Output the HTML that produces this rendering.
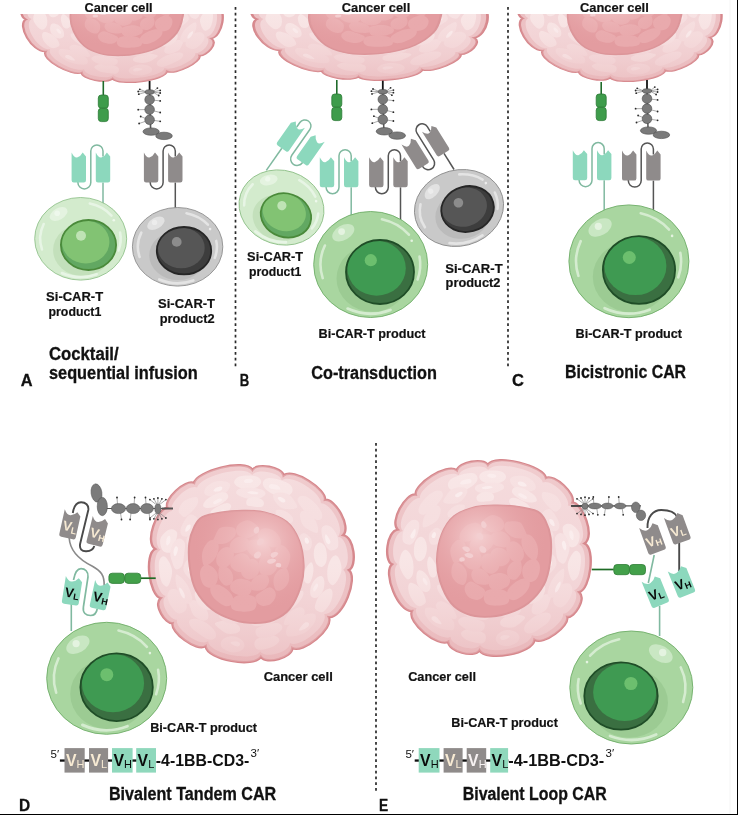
<!DOCTYPE html><html><head><meta charset="utf-8"><style>html,body{margin:0;padding:0;background:#fff;overflow:hidden;}svg{display:block;will-change:transform}</style></head><body><svg width="738" height="815" viewBox="0 0 738 815"><defs><radialGradient id="nucg" cx="0.64" cy="0.28" r="0.6"><stop offset="0" stop-color="#f6d6d7" stop-opacity="0.85"/><stop offset="0.5" stop-color="#f0c0c2" stop-opacity="0.35"/><stop offset="1" stop-color="#e7a4a7" stop-opacity="0"/></radialGradient><linearGradient id="cytog" x1="0" y1="0" x2="0" y2="1"><stop offset="0" stop-color="#fbeeee" stop-opacity="0.35"/><stop offset="0.5" stop-color="#f3d3d5" stop-opacity="0"/><stop offset="1" stop-color="#e6aeb1" stop-opacity="0.6"/></linearGradient><g id="cancer"><path d="M78.8,56.6C84.1,68.4 52.7,94.6 42.6,88.5C42.6,98.5 16.6,106.0 11.3,97.5C5.0,109.3 -42.3,100.9 -43.6,86.5C-52.7,92.8 -79.0,71.8 -76.4,62.8C-83.7,64.0 -95.7,44.1 -88.3,37.0C-99.6,34.3 -105.0,-8.4 -93.7,-13.6C-104.9,-21.2 -91.4,-55.7 -81.6,-56.1C-85.5,-64.6 -63.9,-86.0 -55.1,-81.6C-53.4,-93.5 -4.8,-107.6 2.9,-95.1C7.2,-103.0 32.7,-97.9 33.9,-89.4C44.0,-97.7 77.0,-74.5 75.0,-64.3C85.2,-65.9 101.4,-36.2 93.1,-28.0C104.1,-26.3 107.3,4.0 98.8,8.1C108.3,16.0 92.9,58.0 78.8,56.6Z" fill="#ecc0c3" stroke="#d6878c" stroke-width="2.4"/><path d="M74.3,53.4C79.3,64.5 49.8,89.3 40.2,83.4C40.2,92.9 15.7,100.0 10.7,92.0C4.7,103.1 -39.9,95.2 -41.1,81.6C-49.7,87.5 -74.5,67.7 -72.1,59.3C-78.9,60.4 -90.3,41.6 -83.3,34.9C-93.9,32.3 -99.0,-7.9 -88.3,-12.8C-98.9,-20.0 -86.2,-52.5 -77.0,-52.9C-80.7,-60.9 -60.3,-81.1 -52.0,-76.9C-50.4,-88.2 -4.6,-101.5 2.7,-89.8C6.8,-97.1 30.9,-92.3 32.0,-84.3C41.5,-92.2 72.7,-70.3 70.8,-60.7C80.3,-62.2 95.7,-34.1 87.8,-26.4C98.2,-24.8 101.2,3.8 93.2,7.7C102.2,15.1 87.6,54.7 74.3,53.4Z" fill="#f3d7d9"/><path d="M82.7,23.8C81.1,23.9 78.9,21.2 78.0,18.4C77.2,15.6 77.1,10.6 77.5,7.1C77.9,3.6 79.2,-0.2 80.5,-2.6C81.9,-4.9 84.0,-7.2 85.6,-7.1C87.1,-7.0 88.9,-4.7 89.8,-2.1C90.8,0.5 91.8,5.1 91.5,8.4C91.2,11.8 89.3,15.6 87.9,18.2C86.4,20.7 84.3,23.8 82.7,23.8Z" fill="#f8e6e6"/><path d="M68.2,50.6C66.8,49.9 64.9,48.9 64.9,46.5C64.9,44.2 66.5,39.2 68.2,36.3C69.8,33.5 72.6,30.9 74.7,29.4C76.8,27.9 79.3,26.7 80.6,27.3C82.0,27.9 82.7,30.5 82.6,33.1C82.5,35.6 81.5,39.6 80.0,42.6C78.5,45.6 75.5,49.7 73.5,51.0C71.5,52.3 69.7,51.4 68.2,50.6Z" fill="#f8e6e6"/><path d="M37.4,75.7C35.9,74.3 35.9,70.1 37.4,67.3C39.0,64.4 43.6,60.9 46.7,58.7C49.9,56.5 53.1,54.8 56.1,54.0C59.2,53.2 63.6,52.4 65.1,53.7C66.5,55.1 66.2,59.1 64.8,62.0C63.4,65.0 60.0,69.2 56.9,71.5C53.9,73.8 49.7,75.1 46.5,75.8C43.2,76.5 39.0,77.2 37.4,75.7Z" fill="#f6dfe0"/><path d="M49.2,70.2C48.8,69.7 50.5,67.4 51.5,66.1C52.5,64.7 54.1,62.8 55.3,62.2C56.6,61.7 58.3,61.9 58.8,62.5C59.4,63.2 59.5,64.8 58.6,66.0C57.8,67.1 55.2,68.7 53.6,69.4C52.0,70.1 49.5,70.8 49.2,70.2Z" fill="#fbefef"/><path d="M4.9,85.2C4.7,83.4 5.0,81.2 6.7,79.6C8.5,78.1 12.4,76.7 15.4,76.0C18.4,75.4 22.5,75.2 24.9,75.9C27.3,76.6 29.7,78.5 29.8,80.1C29.9,81.8 27.7,84.1 25.7,85.6C23.7,87.0 20.9,88.2 18.0,88.9C15.1,89.7 10.4,90.7 8.2,90.1C6.0,89.4 5.2,86.9 4.9,85.2Z" fill="#f8e6e6"/><path d="M-28.2,81.9C-27.5,80.1 -25.6,78.5 -23.4,77.6C-21.2,76.7 -17.6,76.0 -14.8,76.5C-12.1,77.0 -8.8,79.0 -7.2,80.6C-5.5,82.3 -4.8,84.6 -5.0,86.4C-5.3,88.2 -6.5,90.2 -8.7,91.3C-10.8,92.4 -15.0,93.4 -18.0,92.9C-21.1,92.4 -25.4,90.1 -27.1,88.3C-28.8,86.5 -28.8,83.7 -28.2,81.9Z" fill="#f7e2e3"/><path d="M-18.9,82.9C-18.8,82.3 -16.6,81.9 -15.3,81.8C-14.0,81.7 -12.1,81.7 -11.1,82.2C-10.1,82.7 -9.3,84.0 -9.4,84.8C-9.5,85.5 -10.5,86.7 -11.6,86.8C-12.8,87.0 -15.0,86.1 -16.2,85.4C-17.5,84.8 -19.1,83.5 -18.9,82.9Z" fill="#fbefef"/><path d="M-59.7,60.2C-58.9,58.8 -56.2,57.9 -53.4,58.4C-50.6,58.8 -46.1,60.7 -42.9,62.8C-39.7,65.0 -35.8,68.6 -34.4,71.1C-32.9,73.5 -33.0,76.3 -34.0,77.8C-35.0,79.2 -37.6,80.4 -40.4,79.8C-43.1,79.1 -47.4,76.0 -50.4,73.8C-53.4,71.7 -56.8,69.2 -58.3,66.9C-59.9,64.6 -60.5,61.6 -59.7,60.2Z" fill="#f7e2e3"/><path d="M-78.7,28.3C-76.9,27.3 -73.7,27.5 -71.3,28.9C-69.0,30.4 -66.1,34.2 -64.6,37.0C-63.1,39.9 -62.2,43.8 -62.3,46.2C-62.4,48.6 -63.9,50.3 -65.4,51.4C-66.9,52.4 -69.3,53.6 -71.4,52.5C-73.6,51.4 -76.5,47.8 -78.2,44.8C-79.9,41.9 -81.5,37.8 -81.6,35.0C-81.7,32.3 -80.4,29.3 -78.7,28.3Z" fill="#f6dfe0"/><path d="M-85.5,-6.1C-84.0,-6.1 -82.1,-4.1 -80.7,-1.6C-79.2,0.8 -77.3,5.0 -77.0,8.4C-76.6,11.8 -77.7,16.0 -78.5,18.8C-79.4,21.6 -80.6,24.9 -82.1,25.2C-83.5,25.5 -85.9,23.1 -87.2,20.6C-88.4,18.0 -89.3,13.5 -89.7,9.8C-90.2,6.1 -90.4,1.0 -89.7,-1.6C-89.0,-4.3 -87.0,-6.1 -85.5,-6.1Z" fill="#f8e6e6"/><path d="M-77.2,-33.9C-75.3,-33.7 -72.5,-32.8 -71.9,-30.4C-71.4,-28.1 -72.8,-23.3 -73.8,-20.0C-74.7,-16.8 -76.0,-12.4 -77.6,-10.8C-79.3,-9.1 -81.9,-9.6 -83.6,-10.2C-85.3,-10.8 -86.8,-12.3 -87.6,-14.6C-88.5,-16.9 -89.4,-21.2 -88.6,-24.1C-87.9,-26.9 -84.9,-30.0 -83.0,-31.7C-81.0,-33.3 -79.0,-34.1 -77.2,-33.9Z" fill="#f8e6e6"/><path d="M-79.5,-27.2C-78.9,-27.0 -78.5,-25.3 -78.5,-24.1C-78.5,-22.8 -78.8,-20.7 -79.4,-19.6C-80.0,-18.4 -81.6,-16.9 -82.2,-17.2C-82.8,-17.4 -82.8,-19.8 -82.8,-21.1C-82.8,-22.4 -82.6,-24.2 -82.0,-25.3C-81.5,-26.3 -80.1,-27.4 -79.5,-27.2Z" fill="#fbefef"/><path d="M-52.0,-66.6C-50.9,-65.7 -50.7,-62.9 -51.4,-60.7C-52.1,-58.4 -54.3,-55.6 -56.4,-53.2C-58.4,-50.9 -61.8,-47.4 -63.9,-46.7C-65.9,-46.0 -67.4,-47.9 -68.5,-49.1C-69.6,-50.3 -70.8,-51.7 -70.4,-53.9C-70.0,-56.1 -68.0,-60.3 -66.0,-62.3C-64.0,-64.4 -60.5,-65.5 -58.2,-66.2C-55.8,-66.9 -53.1,-67.6 -52.0,-66.6Z" fill="#f6dfe0"/><path d="M-19.4,-80.8C-18.7,-79.2 -19.7,-76.3 -21.2,-74.2C-22.8,-72.1 -25.9,-69.5 -28.6,-68.4C-31.4,-67.3 -35.0,-67.3 -37.6,-67.6C-40.3,-68.0 -43.7,-68.6 -44.6,-70.2C-45.6,-71.8 -44.8,-75.1 -43.1,-77.2C-41.5,-79.4 -37.7,-82.0 -34.8,-83.0C-31.9,-84.1 -28.4,-83.9 -25.8,-83.5C-23.2,-83.2 -20.2,-82.3 -19.4,-80.8Z" fill="#f6dfe0"/><path d="M-27.1,-76.9C-26.8,-76.3 -27.2,-75.0 -28.1,-74.3C-28.9,-73.6 -31.0,-73.0 -32.2,-72.8C-33.5,-72.7 -35.5,-72.7 -35.8,-73.3C-36.0,-73.9 -34.9,-75.5 -33.9,-76.3C-32.9,-77.0 -30.9,-77.7 -29.8,-77.9C-28.7,-78.0 -27.4,-77.5 -27.1,-76.9Z" fill="#fbefef"/><path d="M11.6,-83.0C11.7,-81.3 10.3,-79.1 8.1,-77.8C5.9,-76.4 1.6,-74.9 -1.6,-74.8C-4.8,-74.8 -8.8,-76.2 -11.1,-77.5C-13.4,-78.8 -15.2,-80.7 -15.3,-82.4C-15.3,-84.1 -13.8,-86.5 -11.6,-87.7C-9.4,-88.8 -5.1,-89.3 -1.9,-89.3C1.4,-89.4 5.5,-89.0 7.7,-88.0C10.0,-86.9 11.6,-84.7 11.6,-83.0Z" fill="#f8e6e6"/><path d="M3.6,-84.0C3.6,-83.3 2.5,-82.4 1.3,-82.0C0.1,-81.6 -2.6,-81.4 -3.8,-81.7C-4.9,-82.0 -5.6,-83.1 -5.5,-83.8C-5.5,-84.4 -4.5,-85.2 -3.4,-85.5C-2.2,-85.9 0.2,-86.2 1.4,-85.9C2.5,-85.7 3.6,-84.6 3.6,-84.0Z" fill="#fbefef"/><path d="M42.5,-72.3C41.8,-70.4 39.5,-68.5 36.5,-68.1C33.5,-67.6 27.8,-68.3 24.3,-69.7C20.8,-71.1 17.2,-74.1 15.3,-76.2C13.5,-78.3 12.9,-80.7 13.4,-82.4C13.9,-84.2 15.6,-86.2 18.3,-86.6C21.0,-87.1 25.9,-86.1 29.6,-84.9C33.4,-83.7 38.8,-81.5 40.9,-79.4C43.0,-77.3 43.2,-74.2 42.5,-72.3Z" fill="#f8e6e6"/><path d="M30.7,-75.3C30.3,-74.7 27.8,-74.8 26.1,-75.0C24.3,-75.2 21.4,-75.6 20.3,-76.3C19.2,-77.0 19.1,-78.6 19.5,-79.2C19.8,-79.9 20.9,-80.5 22.3,-80.5C23.8,-80.4 26.9,-79.6 28.3,-78.8C29.7,-77.9 31.0,-76.0 30.7,-75.3Z" fill="#fbefef"/><path d="M71.6,-44.9C70.6,-43.7 68.2,-42.9 65.6,-44.0C62.9,-45.2 58.5,-48.7 55.6,-51.7C52.7,-54.8 49.0,-59.8 48.1,-62.5C47.2,-65.2 48.7,-67.1 50.1,-68.0C51.5,-68.8 53.9,-68.9 56.4,-67.7C58.9,-66.5 62.7,-63.5 65.2,-60.7C67.8,-58.0 70.5,-54.1 71.6,-51.4C72.6,-48.8 72.6,-46.1 71.6,-44.9Z" fill="#f6dfe0"/><path d="M84.0,-12.6C82.4,-12.1 80.2,-11.6 78.4,-13.4C76.6,-15.1 74.4,-19.5 73.3,-23.0C72.1,-26.5 71.1,-31.7 71.6,-34.3C72.0,-36.8 74.4,-37.9 76.0,-38.1C77.7,-38.4 79.8,-37.5 81.6,-35.7C83.5,-33.9 86.0,-30.5 87.1,-27.3C88.2,-24.1 88.7,-19.0 88.1,-16.5C87.6,-14.1 85.7,-13.2 84.0,-12.6Z" fill="#f7e2e3"/><path d="M79.0,-18.5C78.4,-18.4 77.2,-19.1 76.5,-20.2C75.9,-21.3 75.3,-23.6 75.2,-25.1C75.0,-26.5 75.2,-28.8 75.8,-28.9C76.3,-29.0 77.5,-27.0 78.3,-25.7C79.1,-24.4 80.4,-22.2 80.5,-21.0C80.6,-19.9 79.7,-18.7 79.0,-18.5Z" fill="#fbefef"/><path d="M63.4,36.6C62.1,36.1 60.7,34.8 60.4,32.7C60.1,30.6 60.4,26.7 61.4,24.0C62.4,21.2 64.7,17.9 66.5,16.3C68.3,14.7 70.7,13.8 72.0,14.4C73.4,15.0 74.1,17.6 74.4,20.0C74.6,22.3 74.4,26.0 73.4,28.6C72.4,31.3 69.9,34.6 68.3,35.9C66.6,37.2 64.7,37.2 63.4,36.6Z" fill="#f8e6e6"/><path d="M64.1,30.1C63.6,30.0 63.1,28.4 63.3,27.3C63.5,26.2 64.6,24.3 65.3,23.4C66.0,22.6 66.8,21.9 67.3,22.0C67.8,22.2 68.2,23.3 68.1,24.3C68.0,25.2 67.1,26.9 66.5,27.9C65.8,28.8 64.7,30.2 64.1,30.1Z" fill="#fbefef"/><path d="M34.4,64.1C33.6,63.1 34.6,60.4 35.6,58.2C36.6,56.1 38.1,53.0 40.4,51.1C42.7,49.1 46.9,47.0 49.2,46.5C51.5,46.1 53.3,47.2 54.1,48.5C55.0,49.7 55.3,51.8 54.3,53.8C53.2,55.8 50.1,58.7 47.8,60.4C45.4,62.2 42.5,63.7 40.3,64.3C38.1,64.9 35.2,65.1 34.4,64.1Z" fill="#f6dfe0"/><path d="M6.2,73.7C5.8,72.1 5.7,69.7 7.5,68.1C9.3,66.6 13.7,65.1 17.1,64.2C20.4,63.3 24.9,62.3 27.5,62.7C30.1,63.1 32.4,65.0 32.7,66.7C33.0,68.3 31.3,70.7 29.3,72.5C27.3,74.3 23.7,76.4 20.5,77.3C17.4,78.2 12.6,78.4 10.2,77.8C7.8,77.2 6.7,75.3 6.2,73.7Z" fill="#f7e2e3"/><path d="M-34.3,63.1C-34.0,61.8 -30.5,60.9 -28.0,60.5C-25.4,60.2 -21.9,60.2 -19.0,61.0C-16.0,61.9 -12.1,64.0 -10.6,65.6C-9.0,67.2 -9.1,69.5 -9.7,70.8C-10.4,72.1 -12.3,73.0 -14.5,73.4C-16.6,73.9 -20.2,74.2 -22.8,73.4C-25.4,72.6 -27.9,70.4 -29.8,68.7C-31.7,67.0 -34.6,64.5 -34.3,63.1Z" fill="#f8e6e6"/><path d="M-59.9,40.4C-59.0,39.1 -55.7,38.9 -53.3,39.7C-50.8,40.5 -47.2,43.0 -45.1,45.2C-43.1,47.4 -41.7,50.6 -41.2,52.9C-40.6,55.1 -40.7,57.4 -41.6,58.6C-42.6,59.9 -44.8,60.8 -47.1,60.2C-49.3,59.7 -53.3,57.3 -55.2,55.2C-57.1,53.1 -57.8,50.1 -58.6,47.6C-59.4,45.1 -60.8,41.7 -59.9,40.4Z" fill="#f7e2e3"/><path d="M-72.7,12.7C-71.6,12.1 -68.7,14.9 -66.6,17.1C-64.6,19.4 -62.0,22.7 -60.3,26.2C-58.7,29.7 -56.9,35.6 -56.8,38.3C-56.7,41.0 -58.4,42.0 -59.8,42.5C-61.1,43.0 -63.1,43.2 -64.9,41.2C-66.7,39.3 -69.3,34.2 -70.7,30.7C-72.1,27.3 -72.9,23.5 -73.2,20.5C-73.6,17.5 -73.8,13.2 -72.7,12.7Z" fill="#f6dfe0"/><path d="M-69.6,26.0C-69.2,25.8 -67.9,26.9 -67.1,28.1C-66.2,29.4 -64.9,32.1 -64.5,33.6C-64.1,35.1 -64.1,37.2 -64.7,37.4C-65.2,37.6 -66.7,36.1 -67.5,34.8C-68.4,33.5 -69.3,30.9 -69.7,29.4C-70.0,27.9 -70.0,26.3 -69.6,26.0Z" fill="#fbefef"/><path d="M-69.3,-24.5C-67.4,-24.3 -65.0,-22.4 -64.3,-19.7C-63.6,-17.0 -64.5,-11.9 -65.0,-8.0C-65.4,-4.1 -65.7,1.0 -67.1,3.6C-68.5,6.1 -71.6,7.9 -73.2,7.3C-74.8,6.7 -75.9,2.9 -76.8,0.1C-77.7,-2.7 -79.0,-6.2 -78.8,-9.7C-78.5,-13.2 -76.7,-18.3 -75.1,-20.8C-73.6,-23.3 -71.1,-24.7 -69.3,-24.5Z" fill="#f7e2e3"/><path d="M-73.0,-16.4C-72.3,-16.5 -71.2,-15.3 -71.1,-14.0C-71.0,-12.7 -71.7,-10.0 -72.3,-8.7C-72.8,-7.4 -73.7,-6.2 -74.2,-6.3C-74.8,-6.4 -75.4,-7.9 -75.5,-9.1C-75.7,-10.3 -75.4,-12.5 -74.9,-13.7C-74.5,-14.9 -73.6,-16.4 -73.0,-16.4Z" fill="#fbefef"/><path d="M-53.8,-47.5C-52.3,-46.4 -50.9,-44.8 -50.8,-42.4C-50.7,-40.0 -51.6,-35.8 -53.2,-33.3C-54.8,-30.7 -58.2,-28.0 -60.4,-26.9C-62.6,-25.9 -65.2,-26.0 -66.6,-27.0C-68.0,-28.0 -68.8,-30.6 -68.6,-33.0C-68.5,-35.3 -67.1,-38.4 -65.6,-41.0C-64.1,-43.7 -61.6,-47.9 -59.6,-48.9C-57.7,-50.0 -55.3,-48.6 -53.8,-47.5Z" fill="#f6dfe0"/><path d="M-58.8,-38.7C-58.3,-38.3 -58.4,-36.7 -58.8,-35.6C-59.1,-34.6 -60.1,-33.3 -60.9,-32.6C-61.6,-31.9 -62.9,-31.1 -63.4,-31.4C-63.8,-31.6 -63.9,-33.0 -63.7,-34.1C-63.4,-35.2 -62.5,-37.3 -61.7,-38.1C-60.9,-38.9 -59.3,-39.2 -58.8,-38.7Z" fill="#fbefef"/><path d="M-22.1,-70.4C-21.2,-69.3 -20.5,-67.4 -21.9,-65.4C-23.4,-63.4 -27.7,-60.1 -30.8,-58.5C-33.9,-57.0 -38.2,-56.1 -40.7,-56.0C-43.2,-55.9 -45.4,-56.6 -45.9,-57.8C-46.5,-59.0 -45.6,-61.3 -44.0,-63.2C-42.4,-65.0 -39.0,-67.4 -36.2,-68.9C-33.4,-70.4 -29.5,-71.8 -27.1,-72.1C-24.8,-72.3 -22.9,-71.5 -22.1,-70.4Z" fill="#f8e6e6"/><path d="M-27.5,-65.2C-27.2,-64.7 -27.7,-63.4 -28.8,-62.5C-29.9,-61.5 -32.9,-60.0 -34.1,-59.7C-35.3,-59.4 -35.9,-60.2 -36.1,-60.7C-36.3,-61.2 -36.1,-62.0 -35.2,-62.8C-34.3,-63.6 -31.9,-65.1 -30.6,-65.5C-29.3,-65.9 -27.8,-65.7 -27.5,-65.2Z" fill="#fbefef"/><path d="M15.9,-70.7C15.9,-69.3 14.5,-67.7 12.1,-66.8C9.7,-65.9 4.9,-65.2 1.6,-65.3C-1.8,-65.4 -5.5,-66.6 -8.0,-67.6C-10.5,-68.6 -13.0,-70.0 -13.3,-71.4C-13.7,-72.7 -12.5,-74.8 -10.0,-75.7C-7.4,-76.6 -1.9,-76.9 1.8,-76.7C5.6,-76.6 10.1,-75.8 12.5,-74.7C14.8,-73.7 16.0,-72.0 15.9,-70.7Z" fill="#f7e2e3"/><path d="M8.9,-71.5C9.0,-71.0 7.9,-70.2 6.7,-70.0C5.4,-69.8 3.0,-70.1 1.5,-70.4C0.0,-70.7 -2.0,-71.3 -2.1,-71.8C-2.1,-72.2 -0.2,-73.0 1.2,-73.2C2.5,-73.4 4.8,-73.0 6.0,-72.7C7.3,-72.5 8.8,-72.0 8.9,-71.5Z" fill="#fbefef"/><path d="M47.4,-56.6C46.7,-55.1 42.9,-54.7 40.2,-54.7C37.5,-54.7 33.6,-55.0 31.1,-56.5C28.5,-57.9 26.3,-61.1 25.0,-63.3C23.8,-65.5 22.9,-68.2 23.7,-69.6C24.5,-71.1 27.3,-71.9 29.7,-71.9C32.2,-72.0 36.1,-71.4 38.5,-70.0C40.9,-68.6 42.9,-65.9 44.3,-63.6C45.8,-61.4 48.1,-58.1 47.4,-56.6Z" fill="#f6dfe0"/><path d="M35.5,-62.3C35.2,-61.7 34.1,-61.3 33.1,-61.5C32.2,-61.7 30.5,-62.8 29.6,-63.6C28.8,-64.4 27.8,-65.8 28.1,-66.4C28.3,-67.0 29.8,-67.4 31.0,-67.1C32.2,-66.8 34.3,-65.5 35.1,-64.7C35.8,-63.9 35.8,-62.8 35.5,-62.3Z" fill="#fbefef"/><path d="M67.5,-30.3C66.3,-29.5 63.1,-31.1 60.8,-32.4C58.4,-33.6 55.2,-35.4 53.4,-37.8C51.6,-40.2 50.4,-44.4 50.2,-46.8C49.9,-49.3 50.6,-51.4 51.9,-52.4C53.1,-53.3 55.6,-53.6 57.6,-52.4C59.7,-51.3 62.5,-47.9 64.2,-45.4C65.9,-42.9 67.2,-39.9 67.7,-37.3C68.3,-34.8 68.6,-31.2 67.5,-30.3Z" fill="#f6dfe0"/><path d="M72.0,4.9C70.5,5.2 68.2,4.1 66.8,2.2C65.5,0.3 64.3,-3.5 64.0,-6.5C63.7,-9.4 64.1,-13.3 65.0,-15.6C65.9,-17.9 67.8,-20.2 69.5,-20.4C71.1,-20.6 73.7,-18.8 74.9,-16.7C76.1,-14.6 76.7,-10.6 76.9,-7.8C77.1,-4.9 76.8,-1.7 76.0,0.4C75.2,2.5 73.6,4.6 72.0,4.9Z" fill="#f8e6e6"/><path d="M56.9,21.8C55.9,21.5 54.8,20.4 54.3,18.6C53.9,16.8 53.5,13.4 54.0,11.0C54.5,8.6 56.1,6.1 57.3,4.3C58.5,2.5 60.3,-0.1 61.3,0.1C62.4,0.3 63.2,3.2 63.5,5.3C63.8,7.4 63.5,10.3 63.0,12.8C62.5,15.3 61.6,18.8 60.6,20.3C59.6,21.8 57.9,22.1 56.9,21.8Z" fill="#f8e6e6"/><path d="M36.6,48.0C35.8,47.1 35.2,45.6 36.0,43.7C36.7,41.9 39.0,38.8 40.9,36.7C42.8,34.6 45.3,32.3 47.4,31.1C49.4,29.9 52.1,28.9 53.1,29.6C54.0,30.3 53.9,32.8 53.0,35.0C52.1,37.2 49.8,40.4 47.7,42.8C45.6,45.1 42.4,48.2 40.5,49.1C38.7,49.9 37.3,48.9 36.6,48.0Z" fill="#f7e2e3"/><path d="M1.3,62.7C1.1,61.3 2.5,59.2 4.4,57.8C6.4,56.4 10.2,54.9 13.1,54.3C15.9,53.7 19.2,53.7 21.5,54.1C23.8,54.5 26.5,55.2 27.1,56.5C27.6,57.7 26.9,60.0 25.0,61.4C23.0,62.8 18.8,64.1 15.6,64.8C12.4,65.5 8.3,66.2 5.9,65.9C3.6,65.5 1.6,64.0 1.3,62.7Z" fill="#f7e2e3"/><path d="M-29.6,53.0C-29.2,51.5 -28.5,49.5 -26.6,49.1C-24.7,48.7 -20.5,49.5 -18.1,50.5C-15.7,51.5 -13.5,53.4 -12.0,55.0C-10.5,56.7 -8.8,59.0 -9.1,60.3C-9.5,61.7 -12.0,62.9 -14.2,63.2C-16.4,63.6 -20.0,63.5 -22.5,62.6C-25.0,61.7 -28.1,59.4 -29.3,57.8C-30.5,56.2 -30.1,54.5 -29.6,53.0Z" fill="#f7e2e3"/><path d="M-26.6,54.6C-26.5,54.2 -25.2,53.9 -24.2,53.9C-23.1,54.0 -21.1,54.4 -20.2,55.0C-19.4,55.6 -18.9,56.8 -19.1,57.4C-19.3,57.9 -20.4,58.6 -21.4,58.5C-22.4,58.4 -24.2,57.4 -25.0,56.7C-25.9,56.1 -26.8,55.1 -26.6,54.6Z" fill="#fbefef"/><path d="M-53.8,30.7C-52.8,29.9 -50.3,30.6 -48.3,31.4C-46.3,32.2 -43.3,33.8 -41.6,35.7C-39.9,37.7 -38.7,40.9 -38.2,43.1C-37.6,45.2 -37.4,47.8 -38.3,48.7C-39.2,49.6 -41.7,49.3 -43.8,48.4C-45.9,47.6 -49.1,45.7 -50.8,43.6C-52.5,41.6 -53.6,38.3 -54.1,36.2C-54.6,34.0 -54.7,31.5 -53.8,30.7Z" fill="#f8e6e6"/><path d="M-60.1,-2.7C-58.6,-3.0 -56.4,-2.4 -55.2,-0.9C-54.0,0.6 -52.9,4.0 -52.7,6.4C-52.4,8.8 -52.9,11.8 -53.7,13.7C-54.5,15.6 -56.2,17.9 -57.6,18.0C-59.0,18.0 -60.8,15.9 -62.1,14.2C-63.5,12.6 -65.4,10.2 -65.7,8.0C-66.0,5.7 -65.0,2.3 -64.1,0.5C-63.2,-1.2 -61.6,-2.5 -60.1,-2.7Z" fill="#f6dfe0"/><path d="M-59.4,4.2C-58.8,4.1 -57.9,4.3 -57.5,5.0C-57.1,5.8 -56.8,8.0 -57.0,8.8C-57.2,9.7 -58.0,9.9 -58.7,10.0C-59.3,10.1 -60.3,10.2 -60.7,9.4C-61.0,8.7 -61.1,6.3 -60.9,5.5C-60.7,4.6 -59.9,4.3 -59.4,4.2Z" fill="#fbefef"/><path d="M-49.4,-38.2C-48.3,-37.6 -47.2,-36.2 -47.2,-34.2C-47.1,-32.2 -47.8,-28.6 -49.0,-26.1C-50.3,-23.5 -52.9,-20.3 -54.8,-18.8C-56.7,-17.4 -59.2,-16.7 -60.5,-17.4C-61.8,-18.0 -63.0,-20.4 -62.7,-22.7C-62.5,-25.1 -60.5,-28.9 -59.0,-31.4C-57.6,-33.9 -55.6,-36.6 -54.0,-37.7C-52.4,-38.8 -50.5,-38.8 -49.4,-38.2Z" fill="#f6dfe0"/><path d="M-18.6,-59.0C-18.0,-57.9 -18.3,-56.0 -19.5,-54.3C-20.8,-52.6 -23.8,-49.9 -26.2,-48.7C-28.6,-47.5 -32.0,-47.0 -34.0,-47.0C-36.0,-46.9 -37.5,-47.5 -38.2,-48.5C-38.9,-49.5 -39.3,-51.2 -38.1,-52.8C-36.9,-54.3 -33.6,-56.5 -31.1,-57.8C-28.6,-59.2 -25.1,-60.7 -23.0,-60.9C-20.9,-61.1 -19.2,-60.1 -18.6,-59.0Z" fill="#f8e6e6"/><path d="M-24.8,-53.4C-24.7,-52.9 -25.3,-52.1 -26.1,-51.4C-26.8,-50.8 -28.4,-49.7 -29.3,-49.4C-30.2,-49.1 -31.6,-49.3 -31.7,-49.6C-31.9,-50.0 -30.9,-51.0 -30.1,-51.7C-29.2,-52.5 -27.7,-53.7 -26.8,-54.0C-25.9,-54.3 -24.9,-53.8 -24.8,-53.4Z" fill="#fbefef"/><path d="M14.4,-60.9C14.4,-59.7 13.8,-57.8 12.3,-57.2C10.7,-56.5 7.5,-56.9 5.2,-57.1C2.8,-57.3 -0.5,-57.5 -1.9,-58.4C-3.2,-59.3 -3.4,-61.2 -3.2,-62.5C-3.0,-63.8 -2.3,-65.2 -0.8,-66.0C0.7,-66.8 3.9,-67.5 6.1,-67.3C8.2,-67.0 10.7,-65.7 12.1,-64.6C13.5,-63.5 14.4,-62.1 14.4,-60.9Z" fill="#f8e6e6"/><path d="M42.6,-41.2C41.7,-40.3 39.4,-40.5 37.4,-40.6C35.5,-40.8 32.6,-40.9 30.8,-42.1C29.1,-43.4 27.7,-46.2 26.9,-48.0C26.1,-49.9 25.4,-52.2 26.2,-53.2C26.9,-54.1 29.4,-54.1 31.4,-53.9C33.3,-53.6 35.7,-52.7 37.6,-51.4C39.5,-50.1 42.0,-47.8 42.8,-46.1C43.7,-44.4 43.5,-42.1 42.6,-41.2Z" fill="#f6dfe0"/><path d="M59.3,-12.5C58.0,-11.9 55.7,-11.9 54.2,-13.0C52.6,-14.1 50.5,-16.8 49.7,-19.0C49.0,-21.2 49.0,-24.3 49.5,-26.1C50.0,-27.9 51.4,-29.3 52.7,-29.7C54.0,-30.1 55.9,-29.5 57.4,-28.4C58.9,-27.4 60.7,-25.4 61.5,-23.5C62.2,-21.6 62.1,-18.9 61.8,-17.1C61.4,-15.2 60.5,-13.2 59.3,-12.5Z" fill="#f6dfe0"/><path d="M58.1,-19.3C57.5,-19.1 56.5,-18.9 55.9,-19.6C55.4,-20.2 54.8,-22.2 54.8,-23.2C54.8,-24.1 55.2,-25.1 55.8,-25.3C56.3,-25.5 57.4,-25.2 58.0,-24.5C58.5,-23.8 59.2,-21.9 59.2,-21.1C59.2,-20.2 58.6,-19.6 58.1,-19.3Z" fill="#fbefef"/><clipPath id="cellclip"><path d="M78.8,56.6C84.1,68.4 52.7,94.6 42.6,88.5C42.6,98.5 16.6,106.0 11.3,97.5C5.0,109.3 -42.3,100.9 -43.6,86.5C-52.7,92.8 -79.0,71.8 -76.4,62.8C-83.7,64.0 -95.7,44.1 -88.3,37.0C-99.6,34.3 -105.0,-8.4 -93.7,-13.6C-104.9,-21.2 -91.4,-55.7 -81.6,-56.1C-85.5,-64.6 -63.9,-86.0 -55.1,-81.6C-53.4,-93.5 -4.8,-107.6 2.9,-95.1C7.2,-103.0 32.7,-97.9 33.9,-89.4C44.0,-97.7 77.0,-74.5 75.0,-64.3C85.2,-65.9 101.4,-36.2 93.1,-28.0C104.1,-26.3 107.3,4.0 98.8,8.1C108.3,16.0 92.9,58.0 78.8,56.6Z"/></clipPath><rect x="-110" y="-110" width="220" height="220" fill="url(#cytog)" clip-path="url(#cellclip)"/><path d="M-46.9,-46.6C-42.5,-49.0 -35.0,-50.3 -28.3,-51.4C-21.6,-52.5 -13.9,-53.0 -6.7,-53.0C0.5,-53.0 7.8,-53.3 15.0,-51.4C22.2,-49.5 31.1,-46.6 36.8,-41.8C42.5,-37.0 46.4,-30.0 49.2,-22.5C52.0,-15.0 53.5,-4.8 53.8,3.2C54.0,11.2 53.0,18.1 50.7,25.6C48.4,33.1 44.3,42.6 39.9,48.2C35.5,53.8 30.1,57.0 24.4,59.4C18.7,61.8 12.5,62.7 5.8,62.7C-0.9,62.7 -8.7,61.8 -15.9,59.4C-23.1,57.0 -31.4,53.3 -37.6,48.2C-43.8,43.1 -49.6,35.9 -53.2,28.9C-56.8,21.9 -58.1,14.4 -59.2,6.4C-60.3,-1.6 -60.6,-12.1 -59.9,-19.3C-59.1,-26.5 -56.9,-32.5 -54.7,-37.0C-52.5,-41.5 -51.3,-44.2 -46.9,-46.6Z" fill="#e39ca0" stroke="#dc9599" stroke-width="2.0"/><clipPath id="nucclip"><path d="M-46.9,-46.6C-42.5,-49.0 -35.0,-50.3 -28.3,-51.4C-21.6,-52.5 -13.9,-53.0 -6.7,-53.0C0.5,-53.0 7.8,-53.3 15.0,-51.4C22.2,-49.5 31.1,-46.6 36.8,-41.8C42.5,-37.0 46.4,-30.0 49.2,-22.5C52.0,-15.0 53.5,-4.8 53.8,3.2C54.0,11.2 53.0,18.1 50.7,25.6C48.4,33.1 44.3,42.6 39.9,48.2C35.5,53.8 30.1,57.0 24.4,59.4C18.7,61.8 12.5,62.7 5.8,62.7C-0.9,62.7 -8.7,61.8 -15.9,59.4C-23.1,57.0 -31.4,53.3 -37.6,48.2C-43.8,43.1 -49.6,35.9 -53.2,28.9C-56.8,21.9 -58.1,14.4 -59.2,6.4C-60.3,-1.6 -60.6,-12.1 -59.9,-19.3C-59.1,-26.5 -56.9,-32.5 -54.7,-37.0C-52.5,-41.5 -51.3,-44.2 -46.9,-46.6Z"/></clipPath><g clip-path="url(#nucclip)"><path d="M27.0,29.3C25.4,28.5 24.5,25.4 24.1,23.0C23.7,20.6 23.6,17.4 24.5,14.9C25.4,12.4 27.6,9.6 29.5,8.1C31.4,6.6 34.3,5.4 35.9,6.1C37.5,6.7 38.6,9.6 39.1,12.0C39.6,14.4 39.7,17.8 38.8,20.4C37.9,23.0 35.6,26.1 33.6,27.6C31.7,29.1 28.6,30.0 27.0,29.3Z" fill="#e9aaad"/><path d="M7.7,41.8C6.4,40.1 5.2,37.1 6.0,35.1C6.9,33.1 10.4,31.3 12.7,29.7C15.1,28.2 18.2,25.8 20.3,25.9C22.4,26.0 24.5,28.5 25.4,30.2C26.3,32.0 26.4,34.4 25.7,36.5C25.0,38.6 23.3,41.4 21.3,42.8C19.2,44.2 15.6,45.3 13.4,45.1C11.1,44.9 8.9,43.4 7.7,41.8Z" fill="#e9aaad"/><path d="M-18.1,41.3C-17.7,39.2 -16.5,36.9 -14.4,35.6C-12.3,34.3 -8.7,33.4 -5.5,33.4C-2.3,33.4 2.5,34.1 4.6,35.6C6.7,37.1 7.2,40.3 7.1,42.6C7.0,44.9 6.2,47.9 4.0,49.4C1.7,50.8 -2.9,51.2 -6.4,51.0C-9.9,50.9 -15.0,50.1 -16.9,48.5C-18.9,46.9 -18.5,43.5 -18.1,41.3Z" fill="#e9aaad"/><path d="M-38.4,25.0C-37.3,23.5 -34.2,22.5 -31.7,23.0C-29.1,23.4 -25.6,25.7 -23.2,27.7C-20.7,29.7 -17.9,32.5 -16.9,35.0C-15.8,37.5 -15.5,40.9 -16.7,42.6C-17.8,44.3 -21.0,45.8 -23.7,45.3C-26.3,44.8 -30.4,41.8 -32.8,39.6C-35.2,37.4 -37.2,34.6 -38.2,32.2C-39.1,29.7 -39.5,26.6 -38.4,25.0Z" fill="#e9aaad"/><path d="M-43.8,2.4C-41.9,1.9 -39.0,3.2 -37.1,4.7C-35.1,6.2 -32.7,8.9 -31.9,11.5C-31.1,14.1 -31.3,18.1 -32.3,20.5C-33.2,23.0 -35.3,25.5 -37.4,26.2C-39.5,26.8 -43.0,26.0 -44.8,24.3C-46.7,22.7 -48.1,18.8 -48.7,16.0C-49.3,13.3 -49.4,10.0 -48.6,7.7C-47.7,5.4 -45.7,2.9 -43.8,2.4Z" fill="#e9aaad"/><path d="M-34.4,-22.9C-32.6,-22.2 -30.9,-19.4 -30.6,-16.8C-30.3,-14.1 -31.4,-9.8 -32.6,-7.0C-33.9,-4.1 -35.9,-1.4 -37.9,0.4C-39.9,2.2 -43.0,4.4 -44.6,3.7C-46.1,3.1 -46.9,-0.7 -47.1,-3.4C-47.4,-6.1 -47.3,-9.3 -46.3,-12.2C-45.3,-15.1 -43.3,-19.0 -41.3,-20.8C-39.3,-22.6 -36.2,-23.6 -34.4,-22.9Z" fill="#e9aaad"/><path d="M-14.4,-34.6C-13.3,-33.1 -13.1,-30.0 -14.1,-27.7C-15.1,-25.5 -17.9,-22.6 -20.3,-21.1C-22.8,-19.6 -26.1,-18.8 -28.7,-18.7C-31.3,-18.6 -35.1,-19.0 -35.9,-20.6C-36.8,-22.1 -34.8,-25.5 -33.8,-28.0C-32.7,-30.4 -31.6,-33.7 -29.5,-35.2C-27.4,-36.6 -23.5,-36.8 -21.0,-36.6C-18.4,-36.5 -15.5,-36.1 -14.4,-34.6Z" fill="#e9aaad"/><path d="M9.9,-33.3C9.8,-31.5 7.4,-29.6 5.3,-28.2C3.3,-26.8 0.3,-24.9 -2.5,-24.8C-5.3,-24.8 -9.8,-26.4 -11.6,-28.0C-13.4,-29.6 -13.6,-32.5 -13.3,-34.5C-13.0,-36.5 -11.8,-38.6 -9.9,-40.1C-7.9,-41.5 -4.2,-43.3 -1.6,-43.2C1.1,-43.0 4.1,-40.6 6.0,-39.0C7.9,-37.4 10.1,-35.1 9.9,-33.3Z" fill="#e9aaad"/><path d="M30.6,-16.9C29.3,-15.4 25.7,-15.1 23.0,-15.5C20.4,-15.9 17.2,-17.3 14.7,-19.1C12.2,-21.0 8.9,-24.3 8.2,-26.6C7.5,-28.9 9.2,-31.6 10.7,-33.0C12.1,-34.4 14.6,-35.1 17.0,-34.9C19.3,-34.7 22.7,-33.5 24.9,-31.8C27.1,-30.1 29.4,-27.1 30.4,-24.6C31.3,-22.1 31.8,-18.4 30.6,-16.9Z" fill="#e9aaad"/><path d="M36.1,6.9C34.5,7.5 31.7,6.3 29.9,4.5C28.1,2.7 26.2,-1.0 25.4,-3.9C24.7,-6.8 24.8,-10.8 25.5,-13.0C26.2,-15.2 28.0,-16.8 29.6,-17.3C31.3,-17.7 33.6,-17.4 35.4,-15.8C37.2,-14.3 39.7,-10.7 40.4,-7.9C41.0,-5.2 40.1,-1.7 39.4,0.8C38.7,3.2 37.7,6.2 36.1,6.9Z" fill="#e9aaad"/><path d="M1.6,28.0C0.4,26.7 0.8,23.5 1.4,21.3C2.0,19.2 3.6,16.7 5.3,15.2C7.1,13.7 10.0,12.5 12.1,12.3C14.2,12.2 16.8,13.0 18.0,14.3C19.2,15.7 19.8,18.3 19.4,20.4C18.9,22.6 17.3,25.8 15.4,27.3C13.5,28.8 10.4,29.2 8.1,29.4C5.8,29.5 2.7,29.4 1.6,28.0Z" fill="#e9aaad"/><path d="M-19.1,23.4C-18.6,21.4 -16.6,19.5 -14.5,18.5C-12.5,17.5 -9.4,16.9 -6.7,17.3C-4.0,17.6 0.1,18.9 1.6,20.7C3.1,22.4 2.7,25.5 2.2,27.7C1.8,29.9 0.9,32.8 -1.2,33.9C-3.3,34.9 -7.4,34.7 -10.1,34.0C-12.9,33.4 -16.1,31.8 -17.6,30.0C-19.1,28.3 -19.6,25.3 -19.1,23.4Z" fill="#e9aaad"/><path d="M-28.9,3.6C-27.5,2.8 -24.5,4.1 -22.5,5.3C-20.6,6.5 -18.4,8.7 -17.4,10.8C-16.3,12.9 -16.1,15.9 -16.4,18.0C-16.7,20.0 -17.6,22.1 -19.0,23.1C-20.4,24.0 -23.0,24.7 -24.8,23.8C-26.6,22.8 -29.0,19.6 -30.1,17.3C-31.1,15.0 -31.1,12.2 -30.9,9.9C-30.7,7.7 -30.3,4.4 -28.9,3.6Z" fill="#e9aaad"/><path d="M-19.5,-15.1C-17.8,-14.3 -16.1,-12.3 -15.6,-10.1C-15.2,-7.9 -15.8,-4.3 -16.9,-1.9C-18.0,0.6 -20.3,3.5 -22.2,4.7C-24.2,5.9 -27.0,6.1 -28.8,5.4C-30.6,4.6 -32.4,2.5 -32.9,0.2C-33.4,-2.2 -33.0,-6.1 -31.8,-8.6C-30.6,-11.1 -27.9,-13.8 -25.8,-14.9C-23.8,-16.0 -21.2,-16.0 -19.5,-15.1Z" fill="#e9aaad"/><path d="M0.3,-19.8C0.6,-17.9 0.3,-15.6 -1.0,-14.0C-2.3,-12.4 -5.2,-11.0 -7.6,-10.3C-10.0,-9.6 -13.7,-9.0 -15.6,-9.8C-17.6,-10.6 -19.0,-12.9 -19.4,-14.8C-19.9,-16.6 -19.5,-19.0 -18.2,-20.9C-16.9,-22.8 -14.1,-25.3 -11.6,-26.0C-9.0,-26.7 -5.1,-25.9 -3.1,-24.9C-1.1,-23.8 -0.1,-21.6 0.3,-19.8Z" fill="#e9aaad"/><path d="M19.9,-5.5C18.4,-3.9 15.1,-3.6 12.3,-3.6C9.6,-3.7 6.0,-4.2 3.5,-5.9C1.0,-7.6 -2.0,-11.2 -2.8,-13.8C-3.5,-16.4 -2.7,-20.0 -1.2,-21.5C0.3,-23.1 3.6,-23.3 6.4,-23.2C9.1,-23.2 12.9,-23.1 15.3,-21.4C17.8,-19.7 20.3,-15.8 21.0,-13.2C21.8,-10.5 21.3,-7.1 19.9,-5.5Z" fill="#e9aaad"/><path d="M18.2,13.8C16.0,14.0 12.7,13.3 11.2,11.6C9.6,9.9 8.7,6.3 8.7,3.7C8.8,1.2 9.7,-2.2 11.2,-3.8C12.7,-5.4 15.6,-5.7 17.8,-5.7C19.9,-5.7 22.4,-5.2 24.1,-3.7C25.8,-2.2 28.1,0.9 28.1,3.3C28.2,5.6 26.1,8.7 24.4,10.5C22.8,12.2 20.4,13.6 18.2,13.8Z" fill="#e9aaad"/><path d="M-4.9,16.0C-6.5,14.8 -8.2,12.7 -8.3,10.6C-8.4,8.4 -6.8,5.3 -5.4,3.1C-3.9,0.8 -1.5,-2.2 0.5,-2.9C2.6,-3.7 5.5,-2.8 7.1,-1.6C8.6,-0.4 9.5,2.0 9.7,4.3C9.9,6.7 9.7,10.2 8.3,12.4C6.9,14.6 3.6,17.1 1.4,17.7C-0.8,18.3 -3.3,17.2 -4.9,16.0Z" fill="#e9aaad"/><path d="M-3.1,-7.9C-1.3,-6.7 0.4,-4.1 0.8,-1.7C1.2,0.6 0.8,4.3 -0.6,6.3C-2.0,8.3 -5.3,9.6 -7.7,10.0C-10.0,10.4 -12.6,10.0 -14.5,8.8C-16.4,7.7 -18.7,5.3 -19.0,3.0C-19.4,0.8 -18.1,-2.7 -16.7,-4.6C-15.2,-6.6 -12.5,-8.3 -10.3,-8.8C-8.0,-9.4 -5.0,-9.1 -3.1,-7.9Z" fill="#e9aaad"/></g><path d="M-46.9,-46.6C-42.5,-49.0 -35.0,-50.3 -28.3,-51.4C-21.6,-52.5 -13.9,-53.0 -6.7,-53.0C0.5,-53.0 7.8,-53.3 15.0,-51.4C22.2,-49.5 31.1,-46.6 36.8,-41.8C42.5,-37.0 46.4,-30.0 49.2,-22.5C52.0,-15.0 53.5,-4.8 53.8,3.2C54.0,11.2 53.0,18.1 50.7,25.6C48.4,33.1 44.3,42.6 39.9,48.2C35.5,53.8 30.1,57.0 24.4,59.4C18.7,61.8 12.5,62.7 5.8,62.7C-0.9,62.7 -8.7,61.8 -15.9,59.4C-23.1,57.0 -31.4,53.3 -37.6,48.2C-43.8,43.1 -49.6,35.9 -53.2,28.9C-56.8,21.9 -58.1,14.4 -59.2,6.4C-60.3,-1.6 -60.6,-12.1 -59.9,-19.3C-59.1,-26.5 -56.9,-32.5 -54.7,-37.0C-52.5,-41.5 -51.3,-44.2 -46.9,-46.6Z" fill="url(#nucg)"/><path d="M26.4,-2.0C26.5,-1.3 25.7,-0.4 24.6,0.2C23.5,0.8 21.2,1.7 20.0,1.6C18.8,1.5 17.6,0.5 17.5,-0.2C17.3,-0.9 18.1,-2.3 19.2,-2.8C20.3,-3.4 22.8,-3.6 24.1,-3.5C25.3,-3.4 26.3,-2.6 26.4,-2.0Z" fill="#f3cfd1"/><path d="M8.0,-36.6C8.7,-36.4 9.5,-35.2 9.6,-34.2C9.7,-33.2 9.5,-31.4 8.9,-30.6C8.3,-29.8 6.7,-29.2 5.9,-29.5C5.1,-29.7 4.2,-31.1 4.1,-32.1C4.0,-33.1 4.8,-34.7 5.5,-35.4C6.1,-36.2 7.4,-36.8 8.0,-36.6Z" fill="#f3cfd1"/><path d="M28.6,-9.3C28.8,-8.6 27.6,-7.2 26.8,-6.4C25.9,-5.6 24.5,-4.5 23.5,-4.5C22.6,-4.5 21.3,-5.4 21.0,-6.2C20.7,-7.0 21.0,-8.4 21.7,-9.2C22.4,-9.9 24.2,-10.5 25.4,-10.5C26.5,-10.5 28.4,-10.0 28.6,-9.3Z" fill="#f3cfd1"/><path d="M11.0,-10.0C11.5,-9.3 11.7,-8.1 11.3,-7.1C10.9,-6.2 9.7,-4.5 8.7,-4.1C7.7,-3.7 5.8,-3.8 5.1,-4.5C4.5,-5.2 4.2,-7.1 4.7,-8.1C5.2,-9.2 7.1,-10.7 8.1,-11.0C9.2,-11.3 10.4,-10.6 11.0,-10.0Z" fill="#f3cfd1"/><path d="M31.5,3.1C31.5,3.8 31.1,5.0 30.4,5.3C29.7,5.6 28.2,5.3 27.5,5.0C26.7,4.7 26.1,3.9 26.0,3.3C25.9,2.6 26.3,1.4 27.0,1.0C27.7,0.7 29.5,0.8 30.3,1.2C31.0,1.5 31.5,2.5 31.5,3.1Z" fill="#f3cfd1"/><path d="M12.5,-24.2C13.3,-23.8 14.5,-23.1 14.4,-22.1C14.4,-21.1 12.9,-19.0 12.0,-18.3C11.0,-17.5 9.3,-17.1 8.6,-17.5C7.8,-18.0 7.2,-19.7 7.5,-20.8C7.7,-22.0 9.0,-23.9 9.8,-24.5C10.7,-25.0 11.7,-24.6 12.5,-24.2Z" fill="#f3cfd1"/></g><clipPath id="topclip"><rect x="0" y="14" width="738" height="120"/></clipPath></defs><rect x="0" y="0" width="738" height="815" fill="#fff"/><g clip-path="url(#topclip)"><use href="#cancer" transform="translate(123.8 14) scale(-0.99 0.662)"/></g><g clip-path="url(#topclip)"><use href="#cancer" transform="translate(371.6 14) scale(-1.16 0.642)"/></g><g clip-path="url(#topclip)"><use href="#cancer" transform="translate(621.6 13) scale(-1.0 0.662)"/></g><text x="84.58" y="11.9" font-size="12.5" font-weight="bold" fill="#111" stroke="#111" stroke-width="0.2" textLength="67.95" lengthAdjust="spacingAndGlyphs" font-family="'Liberation Sans', sans-serif">Cancer cell</text><text x="341.77" y="11.9" font-size="12.5" font-weight="bold" fill="#111" stroke="#111" stroke-width="0.2" textLength="68.46" lengthAdjust="spacingAndGlyphs" font-family="'Liberation Sans', sans-serif">Cancer cell</text><text x="579.97" y="11.9" font-size="12.5" font-weight="bold" fill="#111" stroke="#111" stroke-width="0.2" textLength="68.77" lengthAdjust="spacingAndGlyphs" font-family="'Liberation Sans', sans-serif">Cancer cell</text><line x1="235.5" y1="7" x2="235.5" y2="367" stroke="#2a2a2a" stroke-width="1.7" stroke-dasharray="2.8 2.95"/><line x1="508" y1="7" x2="508" y2="367" stroke="#2a2a2a" stroke-width="1.7" stroke-dasharray="2.8 2.95"/><line x1="376" y1="443" x2="376" y2="792" stroke="#2a2a2a" stroke-width="1.7" stroke-dasharray="2.8 2.95"/><line x1="103.3" y1="81" x2="103.3" y2="95" stroke="#1f6b2a" stroke-width="1.6"/><rect x="98.3" y="95.0" width="10" height="13.3" rx="3" fill="#3e9c4b" stroke="#2b7a35" stroke-width="0.8"/><rect x="98.3" y="108.3" width="10" height="13.3" rx="3" fill="#3e9c4b" stroke="#2b7a35" stroke-width="0.8"/><line x1="149.6" y1="81" x2="149.6" y2="91" stroke="#151515" stroke-width="1.8"/><line x1="149.6" y1="91" x2="150.6" y2="129" stroke="#5a5a5a" stroke-width="1.6"/><line x1="146.6" y1="92.0" x2="139.8" y2="89.3" stroke="#8a8a8a" stroke-width="0.7"/><circle cx="139.8" cy="89.3" r="0.9" fill="#2a2a2a"/><line x1="146.6" y1="92.0" x2="138.2" y2="91.5" stroke="#8a8a8a" stroke-width="0.7"/><circle cx="138.2" cy="91.5" r="0.9" fill="#2a2a2a"/><line x1="146.6" y1="92.0" x2="138.8" y2="94.2" stroke="#8a8a8a" stroke-width="0.7"/><circle cx="138.8" cy="94.2" r="0.9" fill="#2a2a2a"/><line x1="152.6" y1="92.0" x2="157.4" y2="88.1" stroke="#8a8a8a" stroke-width="0.7"/><circle cx="157.4" cy="88.1" r="0.9" fill="#2a2a2a"/><line x1="152.6" y1="92.0" x2="160.2" y2="90.4" stroke="#8a8a8a" stroke-width="0.7"/><circle cx="160.2" cy="90.4" r="0.9" fill="#2a2a2a"/><line x1="152.6" y1="92.0" x2="160.2" y2="93.0" stroke="#8a8a8a" stroke-width="0.7"/><circle cx="160.2" cy="93.0" r="0.9" fill="#2a2a2a"/><line x1="152.6" y1="92.0" x2="158.7" y2="95.5" stroke="#8a8a8a" stroke-width="0.7"/><circle cx="158.7" cy="95.5" r="0.9" fill="#2a2a2a"/><line x1="153.6" y1="100.2" x2="160.2" y2="100.9" stroke="#8a8a8a" stroke-width="0.7"/><circle cx="160.2" cy="100.9" r="0.9" fill="#2a2a2a"/><line x1="145.6" y1="109.6" x2="138.2" y2="109.7" stroke="#8a8a8a" stroke-width="0.7"/><circle cx="138.2" cy="109.7" r="0.9" fill="#2a2a2a"/><line x1="153.6" y1="110.8" x2="160.2" y2="112.5" stroke="#8a8a8a" stroke-width="0.7"/><circle cx="160.2" cy="112.5" r="0.9" fill="#2a2a2a"/><line x1="145.6" y1="118.5" x2="140.7" y2="116.5" stroke="#8a8a8a" stroke-width="0.7"/><circle cx="140.7" cy="116.5" r="0.9" fill="#2a2a2a"/><line x1="145.6" y1="121.3" x2="139.1" y2="123.5" stroke="#8a8a8a" stroke-width="0.7"/><circle cx="139.1" cy="123.5" r="0.9" fill="#2a2a2a"/><line x1="153.6" y1="120.4" x2="160.2" y2="121.3" stroke="#8a8a8a" stroke-width="0.7"/><circle cx="160.2" cy="121.3" r="0.9" fill="#2a2a2a"/><ellipse cx="149.6" cy="92" rx="4.6" ry="2.3" fill="#7a7a7a" stroke="#4a4a4a" stroke-width="0.6"/><circle cx="149.6" cy="99.7" r="4.8" fill="#7a7a7a" stroke="#4a4a4a" stroke-width="0.6"/><circle cx="149.6" cy="109.6" r="4.8" fill="#7a7a7a" stroke="#4a4a4a" stroke-width="0.6"/><circle cx="149.6" cy="119.8" r="4.8" fill="#7a7a7a" stroke="#4a4a4a" stroke-width="0.6"/><ellipse cx="151.1" cy="131.6" rx="8.1" ry="3.7" fill="#7a7a7a" stroke="#4a4a4a" stroke-width="0.6"/><ellipse cx="164.0" cy="135.9" rx="8.3" ry="3.7" fill="#7a7a7a" stroke="#4a4a4a" stroke-width="0.6"/><g transform="translate(103.0 182.5) rotate(0)"><path d="M0,0 L0,21" stroke="#80b9a0" stroke-width="1.5" fill="none"/><path d="M-25.1,-1 L-25.1,0 A6.43,6.43 0 0 0 -12.2,0 L-12.2,-31.5 A6.10,6.10 0 0 1 0,-31.5 L0,-26.0" stroke="#80b9a0" stroke-width="1.5" fill="none"/><path transform="translate(-31.4 -30)" d="M0,27.8 L0,0 Q2.9,6.0 6.0,4.8 Q8.9,3.9 11.1,0 L14.4,3.9 L14.4,27.8 Q14.4,30.0 12.2,30.0 L2.2,30.0 Q0,30.0 0,27.8Z" fill="#8cd8bd"/><path transform="translate(-7.2 -30)" d="M0,27.8 L0,0 Q2.9,6.0 6.0,4.8 Q8.9,3.9 11.1,0 L14.4,3.9 L14.4,27.8 Q14.4,30.0 12.2,30.0 L2.2,30.0 Q0,30.0 0,27.8Z" fill="#8cd8bd"/></g><g transform="translate(175.3 182.5) rotate(0)"><path d="M0,0 L0,27" stroke="#555555" stroke-width="1.5" fill="none"/><path d="M-25.1,-1 L-25.1,0 A6.43,6.43 0 0 0 -12.2,0 L-12.2,-31.5 A6.10,6.10 0 0 1 0,-31.5 L0,-26.0" stroke="#555555" stroke-width="1.5" fill="none"/><path transform="translate(-31.4 -30)" d="M0,27.8 L0,0 Q2.9,6.0 6.0,4.8 Q8.9,3.9 11.1,0 L14.4,3.9 L14.4,27.8 Q14.4,30.0 12.2,30.0 L2.2,30.0 Q0,30.0 0,27.8Z" fill="#8f8b8b"/><path transform="translate(-7.2 -30)" d="M0,27.8 L0,0 Q2.9,6.0 6.0,4.8 Q8.9,3.9 11.1,0 L14.4,3.9 L14.4,27.8 Q14.4,30.0 12.2,30.0 L2.2,30.0 Q0,30.0 0,27.8Z" fill="#8f8b8b"/></g><g transform="rotate(0 80.7 238.8)"><clipPath id="cc1"><ellipse cx="80.7" cy="238.8" rx="46" ry="41.3"/></clipPath><ellipse cx="80.7" cy="238.8" rx="46" ry="41.3" fill="#d3ebcd"/><g clip-path="url(#cc1)"><ellipse cx="82.4" cy="250.0" rx="29.3" ry="26.0" fill="#c3e0bb"/></g><ellipse cx="80.7" cy="238.8" rx="46" ry="41.3" fill="none" stroke="#93c38d" stroke-width="0.9"/><ellipse cx="58.6" cy="214.0" rx="9.7" ry="5.8" transform="rotate(-30 58.6 214.0)" fill="#e4f3e0"/><circle cx="57.2" cy="213.2" r="2.8" fill="#eef8ec"/><path d="M89.8,203.6A40.2,36.1 0 0 1 111.5,215.6" fill="none" stroke="#eef8ec" stroke-width="2.6" stroke-linecap="round" opacity="0.75"/><path d="M120.1,232.6A40.0,35.9 0 0 1 118.5,250.5" fill="none" stroke="#eef8ec" stroke-width="2.6" stroke-linecap="round" opacity="0.75"/><path d="M42.0,249.4A40.5,36.3 0 0 1 43.7,224.0" fill="none" stroke="#eef8ec" stroke-width="2.6" stroke-linecap="round" opacity="0.75"/><path d="M96.6,274.2A42.6,38.2 0 0 1 62.0,273.1" fill="none" stroke="#eef8ec" stroke-width="2.8" stroke-linecap="round" opacity="0.75"/><circle cx="113.8" cy="220.2" r="1.3" fill="#eef8ec"/><clipPath id="nc1"><ellipse cx="88.5" cy="245" rx="27.6" ry="25"/></clipPath><ellipse cx="88.5" cy="245" rx="27.6" ry="25" fill="#62a862"/><g clip-path="url(#nc1)"><ellipse cx="85.7" cy="242.0" rx="23.7" ry="21.5" fill="#82c373"/></g><ellipse cx="88.5" cy="245" rx="27.6" ry="25" fill="none" stroke="#4a8a3a" stroke-width="1.8"/><circle cx="81.0" cy="235.8" r="5.0" fill="#bfe3b5"/></g><g transform="rotate(0 177.6 246.8)"><clipPath id="cc2"><ellipse cx="177.6" cy="246.8" rx="45.2" ry="39.3"/></clipPath><ellipse cx="177.6" cy="246.8" rx="45.2" ry="39.3" fill="#c9c9c9"/><g clip-path="url(#cc2)"><ellipse cx="178.0" cy="255.4" rx="28.8" ry="24.6" fill="#bbbbbb"/></g><ellipse cx="177.6" cy="246.8" rx="45.2" ry="39.3" fill="none" stroke="#8e8e8e" stroke-width="0.9"/><ellipse cx="155.9" cy="223.2" rx="9.5" ry="5.5" transform="rotate(-30 155.9 223.2)" fill="#e2e2e2"/><circle cx="154.5" cy="222.4" r="2.7" fill="#ececec"/><path d="M186.5,213.3A39.6,34.4 0 0 1 207.9,224.7" fill="none" stroke="#ececec" stroke-width="2.6" stroke-linecap="round" opacity="0.75"/><path d="M216.3,240.9A39.3,34.2 0 0 1 214.8,257.9" fill="none" stroke="#ececec" stroke-width="2.6" stroke-linecap="round" opacity="0.75"/><path d="M139.6,256.9A39.8,34.6 0 0 1 141.3,232.7" fill="none" stroke="#ececec" stroke-width="2.6" stroke-linecap="round" opacity="0.75"/><path d="M193.3,280.5A41.8,36.4 0 0 1 159.3,279.5" fill="none" stroke="#ececec" stroke-width="2.8" stroke-linecap="round" opacity="0.75"/><circle cx="210.1" cy="229.1" r="1.3" fill="#ececec"/><clipPath id="nc2"><ellipse cx="184" cy="250.7" rx="27.2" ry="23.7"/></clipPath><ellipse cx="184" cy="250.7" rx="27.2" ry="23.7" fill="#3d3d3d"/><g clip-path="url(#nc2)"><ellipse cx="181.3" cy="247.9" rx="23.4" ry="20.4" fill="#565656"/></g><ellipse cx="184" cy="250.7" rx="27.2" ry="23.7" fill="none" stroke="#262626" stroke-width="1.8"/><circle cx="176.7" cy="241.9" r="4.9" fill="#8c8c8c"/></g><text x="46.10" y="301.4" font-size="13" font-weight="bold" fill="#111" stroke="#111" stroke-width="0.2" textLength="57.05" lengthAdjust="spacingAndGlyphs" font-family="'Liberation Sans', sans-serif">Si-CAR-T</text><text x="48.55" y="316.3" font-size="13" font-weight="bold" fill="#111" stroke="#111" stroke-width="0.2" textLength="52.74" lengthAdjust="spacingAndGlyphs" font-family="'Liberation Sans', sans-serif">product1</text><text x="158.10" y="307.8" font-size="13" font-weight="bold" fill="#111" stroke="#111" stroke-width="0.2" textLength="56.95" lengthAdjust="spacingAndGlyphs" font-family="'Liberation Sans', sans-serif">Si-CAR-T</text><text x="159.71" y="323.0" font-size="13" font-weight="bold" fill="#111" stroke="#111" stroke-width="0.2" textLength="54.90" lengthAdjust="spacingAndGlyphs" font-family="'Liberation Sans', sans-serif">product2</text><text x="48.94" y="360.0" font-size="17.5" font-weight="bold" fill="#111" stroke="#111" stroke-width="0.3" textLength="69.71" lengthAdjust="spacingAndGlyphs" font-family="'Liberation Sans', sans-serif">Cocktail/</text><text x="48.97" y="378.5" font-size="17.5" font-weight="bold" fill="#111" stroke="#111" stroke-width="0.3" textLength="148.80" lengthAdjust="spacingAndGlyphs" font-family="'Liberation Sans', sans-serif">sequential infusion</text><text x="20.84" y="386.0" font-size="17" font-weight="bold" fill="#111" stroke="#111" stroke-width="0.3" textLength="11.83" lengthAdjust="spacingAndGlyphs" font-family="'Liberation Sans', sans-serif">A</text><line x1="336.8" y1="80" x2="336.8" y2="94" stroke="#1f6b2a" stroke-width="1.6"/><rect x="331.8" y="94.0" width="10" height="13.3" rx="3" fill="#3e9c4b" stroke="#2b7a35" stroke-width="0.8"/><rect x="331.8" y="107.3" width="10" height="13.3" rx="3" fill="#3e9c4b" stroke="#2b7a35" stroke-width="0.8"/><line x1="382.8" y1="80.7" x2="382.8" y2="90.7" stroke="#151515" stroke-width="1.8"/><line x1="382.8" y1="90.7" x2="383.8" y2="128.7" stroke="#5a5a5a" stroke-width="1.6"/><line x1="379.8" y1="91.7" x2="373.0" y2="89.0" stroke="#8a8a8a" stroke-width="0.7"/><circle cx="373.0" cy="89.0" r="0.9" fill="#2a2a2a"/><line x1="379.8" y1="91.7" x2="371.4" y2="91.2" stroke="#8a8a8a" stroke-width="0.7"/><circle cx="371.4" cy="91.2" r="0.9" fill="#2a2a2a"/><line x1="379.8" y1="91.7" x2="372.0" y2="93.9" stroke="#8a8a8a" stroke-width="0.7"/><circle cx="372.0" cy="93.9" r="0.9" fill="#2a2a2a"/><line x1="385.8" y1="91.7" x2="390.6" y2="87.8" stroke="#8a8a8a" stroke-width="0.7"/><circle cx="390.6" cy="87.8" r="0.9" fill="#2a2a2a"/><line x1="385.8" y1="91.7" x2="393.4" y2="90.1" stroke="#8a8a8a" stroke-width="0.7"/><circle cx="393.4" cy="90.1" r="0.9" fill="#2a2a2a"/><line x1="385.8" y1="91.7" x2="393.4" y2="92.7" stroke="#8a8a8a" stroke-width="0.7"/><circle cx="393.4" cy="92.7" r="0.9" fill="#2a2a2a"/><line x1="385.8" y1="91.7" x2="391.9" y2="95.2" stroke="#8a8a8a" stroke-width="0.7"/><circle cx="391.9" cy="95.2" r="0.9" fill="#2a2a2a"/><line x1="386.8" y1="99.9" x2="393.4" y2="100.6" stroke="#8a8a8a" stroke-width="0.7"/><circle cx="393.4" cy="100.6" r="0.9" fill="#2a2a2a"/><line x1="378.8" y1="109.3" x2="371.4" y2="109.4" stroke="#8a8a8a" stroke-width="0.7"/><circle cx="371.4" cy="109.4" r="0.9" fill="#2a2a2a"/><line x1="386.8" y1="110.5" x2="393.4" y2="112.2" stroke="#8a8a8a" stroke-width="0.7"/><circle cx="393.4" cy="112.2" r="0.9" fill="#2a2a2a"/><line x1="378.8" y1="118.2" x2="373.9" y2="116.2" stroke="#8a8a8a" stroke-width="0.7"/><circle cx="373.9" cy="116.2" r="0.9" fill="#2a2a2a"/><line x1="378.8" y1="121.0" x2="372.3" y2="123.2" stroke="#8a8a8a" stroke-width="0.7"/><circle cx="372.3" cy="123.2" r="0.9" fill="#2a2a2a"/><line x1="386.8" y1="120.1" x2="393.4" y2="121.0" stroke="#8a8a8a" stroke-width="0.7"/><circle cx="393.4" cy="121.0" r="0.9" fill="#2a2a2a"/><ellipse cx="382.8" cy="91.7" rx="4.6" ry="2.3" fill="#7a7a7a" stroke="#4a4a4a" stroke-width="0.6"/><circle cx="382.8" cy="99.4" r="4.8" fill="#7a7a7a" stroke="#4a4a4a" stroke-width="0.6"/><circle cx="382.8" cy="109.30000000000001" r="4.8" fill="#7a7a7a" stroke="#4a4a4a" stroke-width="0.6"/><circle cx="382.8" cy="119.5" r="4.8" fill="#7a7a7a" stroke="#4a4a4a" stroke-width="0.6"/><ellipse cx="384.3" cy="131.3" rx="8.1" ry="3.7" fill="#7a7a7a" stroke="#4a4a4a" stroke-width="0.6"/><ellipse cx="397.2" cy="135.6" rx="8.3" ry="3.7" fill="#7a7a7a" stroke="#4a4a4a" stroke-width="0.6"/><g transform="translate(281.8 148.3) rotate(35) scale(-1 1)"><path d="M0,0 L0,27" stroke="#80b9a0" stroke-width="1.5" fill="none"/><path d="M-25.1,-1 L-25.1,0 A6.43,6.43 0 0 0 -12.2,0 L-12.2,-31.5 A6.10,6.10 0 0 1 0,-31.5 L0,-26.0" stroke="#80b9a0" stroke-width="1.5" fill="none"/><path transform="translate(-31.4 -30)" d="M0,27.8 L0,0 Q2.9,6.0 6.0,4.8 Q8.9,3.9 11.1,0 L14.4,3.9 L14.4,27.8 Q14.4,30.0 12.2,30.0 L2.2,30.0 Q0,30.0 0,27.8Z" fill="#8cd8bd"/><path transform="translate(-7.2 -30)" d="M0,27.8 L0,0 Q2.9,6.0 6.0,4.8 Q8.9,3.9 11.1,0 L14.4,3.9 L14.4,27.8 Q14.4,30.0 12.2,30.0 L2.2,30.0 Q0,30.0 0,27.8Z" fill="#8cd8bd"/></g><g transform="translate(444.0 153.4) rotate(-32)"><path d="M0,0 L0,19" stroke="#555555" stroke-width="1.5" fill="none"/><path d="M-25.1,-1 L-25.1,0 A6.43,6.43 0 0 0 -12.2,0 L-12.2,-31.5 A6.10,6.10 0 0 1 0,-31.5 L0,-26.0" stroke="#555555" stroke-width="1.5" fill="none"/><path transform="translate(-31.4 -30)" d="M0,27.8 L0,0 Q2.9,6.0 6.0,4.8 Q8.9,3.9 11.1,0 L14.4,3.9 L14.4,27.8 Q14.4,30.0 12.2,30.0 L2.2,30.0 Q0,30.0 0,27.8Z" fill="#8f8b8b"/><path transform="translate(-7.2 -30)" d="M0,27.8 L0,0 Q2.9,6.0 6.0,4.8 Q8.9,3.9 11.1,0 L14.4,3.9 L14.4,27.8 Q14.4,30.0 12.2,30.0 L2.2,30.0 Q0,30.0 0,27.8Z" fill="#8f8b8b"/></g><g transform="translate(351.2 187.3) rotate(0)"><path d="M0,0 L0,28" stroke="#80b9a0" stroke-width="1.5" fill="none"/><path d="M-25.1,-1 L-25.1,0 A6.43,6.43 0 0 0 -12.2,0 L-12.2,-31.5 A6.10,6.10 0 0 1 0,-31.5 L0,-26.0" stroke="#80b9a0" stroke-width="1.5" fill="none"/><path transform="translate(-31.4 -30)" d="M0,27.8 L0,0 Q2.9,6.0 6.0,4.8 Q8.9,3.9 11.1,0 L14.4,3.9 L14.4,27.8 Q14.4,30.0 12.2,30.0 L2.2,30.0 Q0,30.0 0,27.8Z" fill="#8cd8bd"/><path transform="translate(-7.2 -30)" d="M0,27.8 L0,0 Q2.9,6.0 6.0,4.8 Q8.9,3.9 11.1,0 L14.4,3.9 L14.4,27.8 Q14.4,30.0 12.2,30.0 L2.2,30.0 Q0,30.0 0,27.8Z" fill="#8cd8bd"/></g><g transform="translate(400.5 187.3) rotate(0)"><path d="M0,0 L0,34" stroke="#555555" stroke-width="1.5" fill="none"/><path d="M-25.1,-1 L-25.1,0 A6.43,6.43 0 0 0 -12.2,0 L-12.2,-31.5 A6.10,6.10 0 0 1 0,-31.5 L0,-26.0" stroke="#555555" stroke-width="1.5" fill="none"/><path transform="translate(-31.4 -30)" d="M0,27.8 L0,0 Q2.9,6.0 6.0,4.8 Q8.9,3.9 11.1,0 L14.4,3.9 L14.4,27.8 Q14.4,30.0 12.2,30.0 L2.2,30.0 Q0,30.0 0,27.8Z" fill="#8f8b8b"/><path transform="translate(-7.2 -30)" d="M0,27.8 L0,0 Q2.9,6.0 6.0,4.8 Q8.9,3.9 11.1,0 L14.4,3.9 L14.4,27.8 Q14.4,30.0 12.2,30.0 L2.2,30.0 Q0,30.0 0,27.8Z" fill="#8f8b8b"/></g><g transform="rotate(18 281.5 207.5)"><clipPath id="cc3"><ellipse cx="281.5" cy="207.5" rx="43" ry="37"/></clipPath><ellipse cx="281.5" cy="207.5" rx="43" ry="37" fill="#d3ebcd"/><g clip-path="url(#cc3)"><ellipse cx="282.6" cy="218.1" rx="27.0" ry="22.7" fill="#c3e0bb"/></g><ellipse cx="281.5" cy="207.5" rx="43" ry="37" fill="none" stroke="#93c38d" stroke-width="0.9"/><ellipse cx="260.9" cy="185.3" rx="9.0" ry="5.2" transform="rotate(-30 260.9 185.3)" fill="#e4f3e0"/><circle cx="259.6" cy="184.6" r="2.6" fill="#eef8ec"/><path d="M290.0,176.0A37.6,32.4 0 0 1 310.3,186.7" fill="none" stroke="#eef8ec" stroke-width="2.6" stroke-linecap="round" opacity="0.75"/><path d="M318.3,201.9A37.4,32.2 0 0 1 316.9,218.0" fill="none" stroke="#eef8ec" stroke-width="2.6" stroke-linecap="round" opacity="0.75"/><path d="M245.3,217.0A37.8,32.6 0 0 1 246.9,194.3" fill="none" stroke="#eef8ec" stroke-width="2.6" stroke-linecap="round" opacity="0.75"/><path d="M296.4,239.2A39.8,34.2 0 0 1 264.1,238.3" fill="none" stroke="#eef8ec" stroke-width="2.8" stroke-linecap="round" opacity="0.75"/><circle cx="312.5" cy="190.8" r="1.3" fill="#eef8ec"/><clipPath id="nc3"><ellipse cx="288.2" cy="213.7" rx="25.5" ry="21.8"/></clipPath><ellipse cx="288.2" cy="213.7" rx="25.5" ry="21.8" fill="#62a862"/><g clip-path="url(#nc3)"><ellipse cx="285.6" cy="211.1" rx="21.9" ry="18.7" fill="#82c373"/></g><ellipse cx="288.2" cy="213.7" rx="25.5" ry="21.8" fill="none" stroke="#4a8a3a" stroke-width="1.8"/><circle cx="281.3" cy="205.6" r="4.6" fill="#bfe3b5"/></g><g transform="rotate(-15 459 208)"><clipPath id="cc4"><ellipse cx="459" cy="208" rx="45" ry="38"/></clipPath><ellipse cx="459" cy="208" rx="45" ry="38" fill="#c9c9c9"/><g clip-path="url(#cc4)"><ellipse cx="461.2" cy="215.7" rx="28.1" ry="23.6" fill="#bbbbbb"/></g><ellipse cx="459" cy="208" rx="45" ry="38" fill="none" stroke="#8e8e8e" stroke-width="0.9"/><ellipse cx="437.4" cy="185.2" rx="9.4" ry="5.3" transform="rotate(-30 437.4 185.2)" fill="#e2e2e2"/><circle cx="436.0" cy="184.4" r="2.7" fill="#ececec"/><path d="M467.9,175.6A39.4,33.2 0 0 1 489.2,186.6" fill="none" stroke="#ececec" stroke-width="2.6" stroke-linecap="round" opacity="0.75"/><path d="M497.6,202.3A39.1,33.1 0 0 1 496.0,218.8" fill="none" stroke="#ececec" stroke-width="2.6" stroke-linecap="round" opacity="0.75"/><path d="M421.1,217.8A39.6,33.4 0 0 1 422.8,194.4" fill="none" stroke="#ececec" stroke-width="2.6" stroke-linecap="round" opacity="0.75"/><path d="M474.6,240.6A41.6,35.1 0 0 1 440.8,239.6" fill="none" stroke="#ececec" stroke-width="2.8" stroke-linecap="round" opacity="0.75"/><circle cx="491.4" cy="190.9" r="1.3" fill="#ececec"/><clipPath id="nc4"><ellipse cx="467.0" cy="211.2" rx="26.5" ry="22.7"/></clipPath><ellipse cx="467.0" cy="211.2" rx="26.5" ry="22.7" fill="#3d3d3d"/><g clip-path="url(#nc4)"><ellipse cx="464.4" cy="208.5" rx="22.8" ry="19.5" fill="#565656"/></g><ellipse cx="467.0" cy="211.2" rx="26.5" ry="22.7" fill="none" stroke="#262626" stroke-width="1.8"/><circle cx="459.8" cy="202.8" r="4.8" fill="#8c8c8c"/></g><g transform="rotate(0 370.7 264.5)"><clipPath id="cc5"><ellipse cx="370.7" cy="264.5" rx="57" ry="53"/></clipPath><ellipse cx="370.7" cy="264.5" rx="57" ry="53" fill="#a9d6a0"/><g clip-path="url(#cc5)"><ellipse cx="372.5" cy="278.4" rx="36.0" ry="33.3" fill="#9ccb93"/></g><ellipse cx="370.7" cy="264.5" rx="57" ry="53" fill="none" stroke="#6fae69" stroke-width="0.9"/><ellipse cx="343.3" cy="232.7" rx="12.0" ry="7.4" transform="rotate(-30 343.3 232.7)" fill="#c9e7c3"/><circle cx="341.6" cy="231.6" r="3.4" fill="#e4f3e0"/><path d="M381.9,219.3A49.9,46.4 0 0 1 408.9,234.7" fill="none" stroke="#e4f3e0" stroke-width="2.6" stroke-linecap="round" opacity="0.75"/><path d="M419.5,256.5A49.6,46.1 0 0 1 417.6,279.5" fill="none" stroke="#e4f3e0" stroke-width="2.6" stroke-linecap="round" opacity="0.75"/><path d="M322.7,278.1A50.2,46.6 0 0 1 324.9,245.5" fill="none" stroke="#e4f3e0" stroke-width="2.6" stroke-linecap="round" opacity="0.75"/><path d="M390.5,310.0A52.7,49.0 0 0 1 347.6,308.6" fill="none" stroke="#e4f3e0" stroke-width="2.8" stroke-linecap="round" opacity="0.75"/><circle cx="411.7" cy="240.7" r="1.3" fill="#e4f3e0"/><clipPath id="nc5"><ellipse cx="380" cy="272" rx="34" ry="32"/></clipPath><ellipse cx="380" cy="272" rx="34" ry="32" fill="#3a6f41"/><g clip-path="url(#nc5)"><ellipse cx="376.6" cy="268.2" rx="29.2" ry="27.5" fill="#3f9a52"/></g><ellipse cx="380" cy="272" rx="34" ry="32" fill="none" stroke="#1f4d27" stroke-width="1.8"/><circle cx="370.8" cy="260.2" r="6.1" fill="#6cbf6e"/></g><text x="247.12" y="260.9" font-size="13" font-weight="bold" fill="#111" stroke="#111" stroke-width="0.2" textLength="56.03" lengthAdjust="spacingAndGlyphs" font-family="'Liberation Sans', sans-serif">Si-CAR-T</text><text x="249.06" y="275.8" font-size="13" font-weight="bold" fill="#111" stroke="#111" stroke-width="0.2" textLength="52.23" lengthAdjust="spacingAndGlyphs" font-family="'Liberation Sans', sans-serif">product1</text><text x="445.19" y="272.9" font-size="13" font-weight="bold" fill="#111" stroke="#111" stroke-width="0.2" textLength="57.45" lengthAdjust="spacingAndGlyphs" font-family="'Liberation Sans', sans-serif">Si-CAR-T</text><text x="445.61" y="287.4" font-size="13" font-weight="bold" fill="#111" stroke="#111" stroke-width="0.2" textLength="54.80" lengthAdjust="spacingAndGlyphs" font-family="'Liberation Sans', sans-serif">product2</text><text x="318.52" y="338.2" font-size="12.9" font-weight="bold" fill="#111" stroke="#111" stroke-width="0.2" textLength="107.03" lengthAdjust="spacingAndGlyphs" font-family="'Liberation Sans', sans-serif">Bi-CAR-T product</text><text x="311.27" y="378.5" font-size="17.5" font-weight="bold" fill="#111" stroke="#111" stroke-width="0.3" textLength="125.59" lengthAdjust="spacingAndGlyphs" font-family="'Liberation Sans', sans-serif">Co-transduction</text><text x="239.73" y="386.3" font-size="17" font-weight="bold" fill="#111" stroke="#111" stroke-width="0.3" textLength="9.49" lengthAdjust="spacingAndGlyphs" font-family="'Liberation Sans', sans-serif">B</text><line x1="601.2" y1="82" x2="601.2" y2="94" stroke="#1f6b2a" stroke-width="1.6"/><rect x="596.2" y="94.0" width="10" height="13.3" rx="3" fill="#3e9c4b" stroke="#2b7a35" stroke-width="0.8"/><rect x="596.2" y="107.3" width="10" height="13.3" rx="3" fill="#3e9c4b" stroke="#2b7a35" stroke-width="0.8"/><line x1="647" y1="80" x2="647" y2="90" stroke="#151515" stroke-width="1.8"/><line x1="647" y1="90" x2="648" y2="128" stroke="#5a5a5a" stroke-width="1.6"/><line x1="644.0" y1="91.0" x2="637.2" y2="88.3" stroke="#8a8a8a" stroke-width="0.7"/><circle cx="637.2" cy="88.3" r="0.9" fill="#2a2a2a"/><line x1="644.0" y1="91.0" x2="635.6" y2="90.5" stroke="#8a8a8a" stroke-width="0.7"/><circle cx="635.6" cy="90.5" r="0.9" fill="#2a2a2a"/><line x1="644.0" y1="91.0" x2="636.2" y2="93.2" stroke="#8a8a8a" stroke-width="0.7"/><circle cx="636.2" cy="93.2" r="0.9" fill="#2a2a2a"/><line x1="650.0" y1="91.0" x2="654.8" y2="87.1" stroke="#8a8a8a" stroke-width="0.7"/><circle cx="654.8" cy="87.1" r="0.9" fill="#2a2a2a"/><line x1="650.0" y1="91.0" x2="657.6" y2="89.4" stroke="#8a8a8a" stroke-width="0.7"/><circle cx="657.6" cy="89.4" r="0.9" fill="#2a2a2a"/><line x1="650.0" y1="91.0" x2="657.6" y2="92.0" stroke="#8a8a8a" stroke-width="0.7"/><circle cx="657.6" cy="92.0" r="0.9" fill="#2a2a2a"/><line x1="650.0" y1="91.0" x2="656.1" y2="94.5" stroke="#8a8a8a" stroke-width="0.7"/><circle cx="656.1" cy="94.5" r="0.9" fill="#2a2a2a"/><line x1="651.0" y1="99.2" x2="657.6" y2="99.9" stroke="#8a8a8a" stroke-width="0.7"/><circle cx="657.6" cy="99.9" r="0.9" fill="#2a2a2a"/><line x1="643.0" y1="108.6" x2="635.6" y2="108.7" stroke="#8a8a8a" stroke-width="0.7"/><circle cx="635.6" cy="108.7" r="0.9" fill="#2a2a2a"/><line x1="651.0" y1="109.8" x2="657.6" y2="111.5" stroke="#8a8a8a" stroke-width="0.7"/><circle cx="657.6" cy="111.5" r="0.9" fill="#2a2a2a"/><line x1="643.0" y1="117.5" x2="638.1" y2="115.5" stroke="#8a8a8a" stroke-width="0.7"/><circle cx="638.1" cy="115.5" r="0.9" fill="#2a2a2a"/><line x1="643.0" y1="120.3" x2="636.5" y2="122.5" stroke="#8a8a8a" stroke-width="0.7"/><circle cx="636.5" cy="122.5" r="0.9" fill="#2a2a2a"/><line x1="651.0" y1="119.4" x2="657.6" y2="120.3" stroke="#8a8a8a" stroke-width="0.7"/><circle cx="657.6" cy="120.3" r="0.9" fill="#2a2a2a"/><ellipse cx="647" cy="91" rx="4.6" ry="2.3" fill="#7a7a7a" stroke="#4a4a4a" stroke-width="0.6"/><circle cx="647" cy="98.7" r="4.8" fill="#7a7a7a" stroke="#4a4a4a" stroke-width="0.6"/><circle cx="647" cy="108.6" r="4.8" fill="#7a7a7a" stroke="#4a4a4a" stroke-width="0.6"/><circle cx="647" cy="118.8" r="4.8" fill="#7a7a7a" stroke="#4a4a4a" stroke-width="0.6"/><ellipse cx="648.5" cy="130.6" rx="8.1" ry="3.7" fill="#7a7a7a" stroke="#4a4a4a" stroke-width="0.6"/><ellipse cx="661.4" cy="134.9" rx="8.3" ry="3.7" fill="#7a7a7a" stroke="#4a4a4a" stroke-width="0.6"/><g transform="translate(604.2 180.2) rotate(0)"><path d="M0,0 L0,30" stroke="#80b9a0" stroke-width="1.5" fill="none"/><path d="M-25.1,-1 L-25.1,0 A6.43,6.43 0 0 0 -12.2,0 L-12.2,-31.5 A6.10,6.10 0 0 1 0,-31.5 L0,-26.0" stroke="#80b9a0" stroke-width="1.5" fill="none"/><path transform="translate(-31.4 -30)" d="M0,27.8 L0,0 Q2.9,6.0 6.0,4.8 Q8.9,3.9 11.1,0 L14.4,3.9 L14.4,27.8 Q14.4,30.0 12.2,30.0 L2.2,30.0 Q0,30.0 0,27.8Z" fill="#8cd8bd"/><path transform="translate(-7.2 -30)" d="M0,27.8 L0,0 Q2.9,6.0 6.0,4.8 Q8.9,3.9 11.1,0 L14.4,3.9 L14.4,27.8 Q14.4,30.0 12.2,30.0 L2.2,30.0 Q0,30.0 0,27.8Z" fill="#8cd8bd"/></g><g transform="translate(653.4 180.6) rotate(0)"><path d="M0,0 L0,32" stroke="#555555" stroke-width="1.5" fill="none"/><path d="M-25.1,-1 L-25.1,0 A6.43,6.43 0 0 0 -12.2,0 L-12.2,-31.5 A6.10,6.10 0 0 1 0,-31.5 L0,-26.0" stroke="#555555" stroke-width="1.5" fill="none"/><path transform="translate(-31.4 -30)" d="M0,27.8 L0,0 Q2.9,6.0 6.0,4.8 Q8.9,3.9 11.1,0 L14.4,3.9 L14.4,27.8 Q14.4,30.0 12.2,30.0 L2.2,30.0 Q0,30.0 0,27.8Z" fill="#8f8b8b"/><path transform="translate(-7.2 -30)" d="M0,27.8 L0,0 Q2.9,6.0 6.0,4.8 Q8.9,3.9 11.1,0 L14.4,3.9 L14.4,27.8 Q14.4,30.0 12.2,30.0 L2.2,30.0 Q0,30.0 0,27.8Z" fill="#8f8b8b"/></g><g transform="rotate(0 628.9 261.3)"><clipPath id="cc6"><ellipse cx="628.9" cy="261.3" rx="60" ry="56.4"/></clipPath><ellipse cx="628.9" cy="261.3" rx="60" ry="56.4" fill="#a9d6a0"/><g clip-path="url(#cc6)"><ellipse cx="631.1" cy="276.8" rx="38.3" ry="35.3" fill="#9ccb93"/></g><ellipse cx="628.9" cy="261.3" rx="60" ry="56.4" fill="none" stroke="#6fae69" stroke-width="0.9"/><ellipse cx="600.1" cy="227.5" rx="12.6" ry="7.9" transform="rotate(-30 600.1 227.5)" fill="#c9e7c3"/><circle cx="598.3" cy="226.3" r="3.6" fill="#e4f3e0"/><path d="M640.7,213.2A52.5,49.4 0 0 1 669.1,229.6" fill="none" stroke="#e4f3e0" stroke-width="2.6" stroke-linecap="round" opacity="0.75"/><path d="M680.3,252.8A52.2,49.1 0 0 1 678.3,277.3" fill="none" stroke="#e4f3e0" stroke-width="2.6" stroke-linecap="round" opacity="0.75"/><path d="M578.4,275.8A52.8,49.6 0 0 1 580.7,241.1" fill="none" stroke="#e4f3e0" stroke-width="2.6" stroke-linecap="round" opacity="0.75"/><path d="M649.7,309.7A55.5,52.2 0 0 1 604.6,308.2" fill="none" stroke="#e4f3e0" stroke-width="2.8" stroke-linecap="round" opacity="0.75"/><circle cx="672.1" cy="235.9" r="1.3" fill="#e4f3e0"/><clipPath id="nc6"><ellipse cx="639" cy="270" rx="36.1" ry="33.9"/></clipPath><ellipse cx="639" cy="270" rx="36.1" ry="33.9" fill="#3a6f41"/><g clip-path="url(#nc6)"><ellipse cx="635.4" cy="265.9" rx="31.0" ry="29.2" fill="#3f9a52"/></g><ellipse cx="639" cy="270" rx="36.1" ry="33.9" fill="none" stroke="#1f4d27" stroke-width="1.8"/><circle cx="629.3" cy="257.5" r="6.5" fill="#6cbf6e"/></g><text x="575.52" y="338.2" font-size="12.9" font-weight="bold" fill="#111" stroke="#111" stroke-width="0.2" textLength="106.53" lengthAdjust="spacingAndGlyphs" font-family="'Liberation Sans', sans-serif">Bi-CAR-T product</text><text x="565.09" y="378.0" font-size="17.5" font-weight="bold" fill="#111" stroke="#111" stroke-width="0.3" textLength="121.01" lengthAdjust="spacingAndGlyphs" font-family="'Liberation Sans', sans-serif">Bicistronic CAR</text><text x="512.03" y="386.3" font-size="17" font-weight="bold" fill="#111" stroke="#111" stroke-width="0.3" textLength="11.95" lengthAdjust="spacingAndGlyphs" font-family="'Liberation Sans', sans-serif">C</text><use href="#cancer" transform="translate(249.5 562.2) scale(1.006 0.97)"/><g transform="rotate(0 106.7 678.3)"><clipPath id="cc7"><ellipse cx="106.7" cy="678.3" rx="60" ry="56"/></clipPath><ellipse cx="106.7" cy="678.3" rx="60" ry="56" fill="#a9d6a0"/><g clip-path="url(#cc7)"><ellipse cx="108.6" cy="694.0" rx="38.4" ry="35.3" fill="#9ccb93"/></g><ellipse cx="106.7" cy="678.3" rx="60" ry="56" fill="none" stroke="#6fae69" stroke-width="0.9"/><ellipse cx="77.9" cy="644.7" rx="12.6" ry="7.8" transform="rotate(-30 77.9 644.7)" fill="#c9e7c3"/><circle cx="76.1" cy="643.6" r="3.6" fill="#e4f3e0"/><path d="M118.5,630.6A52.5,49.0 0 0 1 146.9,646.8" fill="none" stroke="#e4f3e0" stroke-width="2.6" stroke-linecap="round" opacity="0.75"/><path d="M158.1,669.8A52.2,48.7 0 0 1 156.1,694.2" fill="none" stroke="#e4f3e0" stroke-width="2.6" stroke-linecap="round" opacity="0.75"/><path d="M56.2,692.7A52.8,49.3 0 0 1 58.5,658.3" fill="none" stroke="#e4f3e0" stroke-width="2.6" stroke-linecap="round" opacity="0.75"/><path d="M127.5,726.3A55.5,51.8 0 0 1 82.4,724.9" fill="none" stroke="#e4f3e0" stroke-width="2.8" stroke-linecap="round" opacity="0.75"/><circle cx="149.9" cy="653.1" r="1.3" fill="#e4f3e0"/><clipPath id="nc7"><ellipse cx="116.6" cy="687.2" rx="36.2" ry="33.9"/></clipPath><ellipse cx="116.6" cy="687.2" rx="36.2" ry="33.9" fill="#3a6f41"/><g clip-path="url(#nc7)"><ellipse cx="113.0" cy="683.1" rx="31.1" ry="29.2" fill="#3f9a52"/></g><ellipse cx="116.6" cy="687.2" rx="36.2" ry="33.9" fill="none" stroke="#1f4d27" stroke-width="1.8"/><circle cx="106.8" cy="674.7" r="6.5" fill="#6cbf6e"/></g><text x="263.66" y="680.8" font-size="12.5" font-weight="bold" fill="#111" stroke="#111" stroke-width="0.2" textLength="69.08" lengthAdjust="spacingAndGlyphs" font-family="'Liberation Sans', sans-serif">Cancer cell</text><text x="150.22" y="731.7" font-size="12.9" font-weight="bold" fill="#111" stroke="#111" stroke-width="0.2" textLength="106.83" lengthAdjust="spacingAndGlyphs" font-family="'Liberation Sans', sans-serif">Bi-CAR-T product</text><text x="108.88" y="799.8" font-size="17.5" font-weight="bold" fill="#111" stroke="#111" stroke-width="0.3" textLength="167.40" lengthAdjust="spacingAndGlyphs" font-family="'Liberation Sans', sans-serif">Bivalent Tandem CAR</text><text x="19.09" y="810.5" font-size="17" font-weight="bold" fill="#111" stroke="#111" stroke-width="0.3" textLength="11.16" lengthAdjust="spacingAndGlyphs" font-family="'Liberation Sans', sans-serif">D</text><use href="#cancer" transform="translate(490.8 556.5) scale(-1.0 0.963)"/><g transform="rotate(0 631.3 687.5) translate(1262.6 0) scale(-1 1)"><clipPath id="cc8"><ellipse cx="631.3" cy="687.5" rx="61.5" ry="56.5"/></clipPath><ellipse cx="631.3" cy="687.5" rx="61.5" ry="56.5" fill="#a9d6a0"/><g clip-path="url(#cc8)"><ellipse cx="633.5" cy="702.7" rx="38.9" ry="35.0" fill="#9ccb93"/></g><ellipse cx="631.3" cy="687.5" rx="61.5" ry="56.5" fill="none" stroke="#6fae69" stroke-width="0.9"/><ellipse cx="601.8" cy="653.6" rx="12.9" ry="7.9" transform="rotate(-30 601.8 653.6)" fill="#c9e7c3"/><circle cx="599.9" cy="652.5" r="3.7" fill="#e4f3e0"/><path d="M643.4,639.3A53.8,49.4 0 0 1 672.5,655.7" fill="none" stroke="#e4f3e0" stroke-width="2.6" stroke-linecap="round" opacity="0.75"/><path d="M684.0,679.0A53.5,49.2 0 0 1 681.9,703.5" fill="none" stroke="#e4f3e0" stroke-width="2.6" stroke-linecap="round" opacity="0.75"/><path d="M579.5,702.0A54.1,49.7 0 0 1 581.9,667.3" fill="none" stroke="#e4f3e0" stroke-width="2.6" stroke-linecap="round" opacity="0.75"/><path d="M652.6,736.0A56.9,52.3 0 0 1 606.4,734.5" fill="none" stroke="#e4f3e0" stroke-width="2.8" stroke-linecap="round" opacity="0.75"/><circle cx="675.6" cy="662.1" r="1.3" fill="#e4f3e0"/><clipPath id="nc8"><ellipse cx="641.5999999999999" cy="696" rx="36.7" ry="33.7"/></clipPath><ellipse cx="641.5999999999999" cy="696" rx="36.7" ry="33.7" fill="#3a6f41"/><g clip-path="url(#nc8)"><ellipse cx="637.9" cy="692.0" rx="31.6" ry="29.0" fill="#3f9a52"/></g><ellipse cx="641.5999999999999" cy="696" rx="36.7" ry="33.7" fill="none" stroke="#1f4d27" stroke-width="1.8"/><circle cx="631.7" cy="683.5" r="6.6" fill="#6cbf6e"/></g><text x="408.18" y="680.7" font-size="12.5" font-weight="bold" fill="#111" stroke="#111" stroke-width="0.2" textLength="67.85" lengthAdjust="spacingAndGlyphs" font-family="'Liberation Sans', sans-serif">Cancer cell</text><text x="451.32" y="726.7" font-size="12.9" font-weight="bold" fill="#111" stroke="#111" stroke-width="0.2" textLength="106.53" lengthAdjust="spacingAndGlyphs" font-family="'Liberation Sans', sans-serif">Bi-CAR-T product</text><text x="462.79" y="800.0" font-size="17.5" font-weight="bold" fill="#111" stroke="#111" stroke-width="0.3" textLength="143.95" lengthAdjust="spacingAndGlyphs" font-family="'Liberation Sans', sans-serif">Bivalent Loop CAR</text><text x="379.09" y="810.7" font-size="17" font-weight="bold" fill="#111" stroke="#111" stroke-width="0.3" textLength="9.19" lengthAdjust="spacingAndGlyphs" font-family="'Liberation Sans', sans-serif">E</text><line x1="173" y1="508.5" x2="162" y2="508.5" stroke="#1a1a1a" stroke-width="1.7"/><line x1="173" y1="508.5" x2="102.3" y2="508.5" stroke="#555" stroke-width="1.2"/><line x1="156.7" y1="505.0" x2="149.9" y2="499.6" stroke="#8a8a8a" stroke-width="0.7"/><circle cx="149.9" cy="499.6" r="0.9" fill="#2a2a2a"/><line x1="156.7" y1="512.6" x2="149.9" y2="518.0" stroke="#8a8a8a" stroke-width="0.7"/><circle cx="149.9" cy="518.0" r="0.9" fill="#2a2a2a"/><line x1="157.3" y1="505.0" x2="153.9" y2="498.8" stroke="#8a8a8a" stroke-width="0.7"/><circle cx="153.9" cy="498.8" r="0.9" fill="#2a2a2a"/><line x1="157.3" y1="512.6" x2="153.9" y2="518.8" stroke="#8a8a8a" stroke-width="0.7"/><circle cx="153.9" cy="518.8" r="0.9" fill="#2a2a2a"/><line x1="157.9" y1="505.0" x2="157.9" y2="498.0" stroke="#8a8a8a" stroke-width="0.7"/><circle cx="157.9" cy="498.0" r="0.9" fill="#2a2a2a"/><line x1="157.9" y1="512.6" x2="157.9" y2="519.6" stroke="#8a8a8a" stroke-width="0.7"/><circle cx="157.9" cy="519.6" r="0.9" fill="#2a2a2a"/><line x1="158.5" y1="505.0" x2="161.9" y2="498.8" stroke="#8a8a8a" stroke-width="0.7"/><circle cx="161.9" cy="498.8" r="0.9" fill="#2a2a2a"/><line x1="158.5" y1="512.6" x2="161.9" y2="518.8" stroke="#8a8a8a" stroke-width="0.7"/><circle cx="161.9" cy="518.8" r="0.9" fill="#2a2a2a"/><line x1="159.1" y1="505.0" x2="165.9" y2="499.6" stroke="#8a8a8a" stroke-width="0.7"/><circle cx="165.9" cy="499.6" r="0.9" fill="#2a2a2a"/><line x1="159.1" y1="512.6" x2="165.9" y2="518.0" stroke="#8a8a8a" stroke-width="0.7"/><circle cx="165.9" cy="518.0" r="0.9" fill="#2a2a2a"/><line x1="146.0" y1="504.0" x2="145.5" y2="497.5" stroke="#8a8a8a" stroke-width="0.7"/><circle cx="145.5" cy="497.5" r="0.9" fill="#2a2a2a"/><line x1="149.0" y1="513.0" x2="150.0" y2="519.5" stroke="#8a8a8a" stroke-width="0.7"/><circle cx="150.0" cy="519.5" r="0.9" fill="#2a2a2a"/><line x1="134.1" y1="504.0" x2="134.6" y2="497.5" stroke="#8a8a8a" stroke-width="0.7"/><circle cx="134.6" cy="497.5" r="0.9" fill="#2a2a2a"/><line x1="131.1" y1="513.0" x2="130.1" y2="519.5" stroke="#8a8a8a" stroke-width="0.7"/><circle cx="130.1" cy="519.5" r="0.9" fill="#2a2a2a"/><line x1="117.5" y1="504.0" x2="117.0" y2="497.5" stroke="#8a8a8a" stroke-width="0.7"/><circle cx="117.0" cy="497.5" r="0.9" fill="#2a2a2a"/><line x1="120.5" y1="513.0" x2="121.5" y2="519.5" stroke="#8a8a8a" stroke-width="0.7"/><circle cx="121.5" cy="519.5" r="0.9" fill="#2a2a2a"/><ellipse cx="157.9" cy="508.8" rx="3.1" ry="4.8" fill="#7b7b7b" stroke="#4f4f4f" stroke-width="0.5"/><ellipse cx="147" cy="508.6" rx="6.4" ry="5" fill="#7b7b7b" stroke="#4f4f4f" stroke-width="0.5"/><ellipse cx="133.1" cy="508.6" rx="6.8" ry="5" fill="#7b7b7b" stroke="#4f4f4f" stroke-width="0.5"/><ellipse cx="118.5" cy="508.6" rx="7.1" ry="5" fill="#7b7b7b" stroke="#4f4f4f" stroke-width="0.5"/><ellipse cx="96.5" cy="493" rx="5.4" ry="9.2" transform="rotate(-8 96.5 493)" fill="#7b7b7b" stroke="#4f4f4f" stroke-width="0.5"/><ellipse cx="102.3" cy="506.5" rx="5.1" ry="9.2" transform="rotate(0 102.3 506.5)" fill="#7b7b7b" stroke="#4f4f4f" stroke-width="0.5"/><line x1="155.7" y1="578.2" x2="140.7" y2="578.2" stroke="#1e6b25" stroke-width="1.7"/><rect x="108.9" y="573.2" width="15.5" height="10.2" rx="3.3" fill="#43a04a" stroke="#2e7d36" stroke-width="0.8"/><rect x="124.8" y="573.2" width="15.9" height="10.2" rx="3.3" fill="#43a04a" stroke="#2e7d36" stroke-width="0.8"/><path d="M72.8,513 C74,505 77,502.2 81.1,502.2 C85.5,502.2 89,505 88.3,510 L80.2,543.5 C79,549 82,551.5 86.3,551.3 C90.5,551 93.5,549 94.3,546" fill="none" stroke="#4a4a4a" stroke-width="1.9"/><path d="M69.2,538 C70,552 80,560 92,566 C101,571 104.5,575 104.2,586" fill="none" stroke="#8a8a8a" stroke-width="1.6"/><path d="M73.5,580 C75,572 77.5,568.7 81,568.7 C85,568.7 88.5,571.5 88,577 L83.4,607 C82.5,613 86,615.5 90.5,615.5 C94,615.5 96.5,613 97.2,609" fill="none" stroke="#80b9a0" stroke-width="1.7"/><line x1="71.3" y1="604" x2="71.3" y2="631" stroke="#80b9a0" stroke-width="1.6"/><g transform="translate(70 524.6) rotate(12.5)"><path transform="translate(-8.40 -13.75)" d="M0,25.0 L0,0 Q3.4,5.5 7.1,4.4 Q10.4,3.6 12.9,0 L16.8,3.6 L16.8,25.0 Q16.8,27.5 14.3,27.5 L2.5,27.5 Q0,27.5 0,25.0Z" fill="#8f8b8b"/><text x="-6.8" y="6.6" font-size="13.5" font-weight="bold" fill="#f7ead3" font-family="'Liberation Sans', sans-serif">V<tspan font-size="9.0" dy="1.8">L</tspan></text></g><g transform="translate(97.4 531.6) rotate(14)"><path transform="translate(-8.25 -14.00)" d="M0,25.5 L0,0 Q3.3,5.6 6.9,4.5 Q10.2,3.6 12.7,0 L16.5,3.6 L16.5,25.5 Q16.5,28.0 14.0,28.0 L2.5,28.0 Q0,28.0 0,25.5Z" fill="#8f8b8b"/><text x="-6.7" y="6.7" font-size="13.5" font-weight="bold" fill="#f7ead3" font-family="'Liberation Sans', sans-serif">V<tspan font-size="9.0" dy="1.8">H</tspan></text></g><g transform="translate(72.1 591) rotate(9)"><path transform="translate(-8.50 -13.75)" d="M0,25.0 L0,0 Q3.4,5.5 7.1,4.4 Q10.5,3.6 13.1,0 L17.0,3.6 L17.0,25.0 Q17.0,27.5 14.5,27.5 L2.5,27.5 Q0,27.5 0,25.0Z" fill="#8cd8bd"/><text x="-6.9" y="6.6" font-size="13.5" font-weight="bold" fill="#0a0a0a" font-family="'Liberation Sans', sans-serif">V<tspan font-size="9.0" dy="1.8">L</tspan></text></g><g transform="translate(100.3 595.3) rotate(12)"><path transform="translate(-8.25 -14.00)" d="M0,25.5 L0,0 Q3.3,5.6 6.9,4.5 Q10.2,3.6 12.7,0 L16.5,3.6 L16.5,25.5 Q16.5,28.0 14.0,28.0 L2.5,28.0 Q0,28.0 0,25.5Z" fill="#8cd8bd"/><text x="-6.7" y="6.7" font-size="13.5" font-weight="bold" fill="#0a0a0a" font-family="'Liberation Sans', sans-serif">V<tspan font-size="9.0" dy="1.8">H</tspan></text></g><text x="50.6" y="757.6" font-size="11.5" fill="#111" font-family="'Liberation Sans', sans-serif">5′</text><rect x="59.9" y="759.4" width="95.9" height="2.3" fill="#111"/><rect x="64.5" y="748.1" width="20.2" height="24.5" fill="#8f8b8a"/><text x="65.9" y="765.8" font-size="15.8" font-weight="bold" fill="#f7ead3" font-family="'Liberation Sans', sans-serif">V<tspan font-size="11" font-weight="normal" dy="2.2">H</tspan></text><rect x="89.0" y="748.1" width="19.1" height="24.5" fill="#8f8b8a"/><text x="90.4" y="765.8" font-size="15.8" font-weight="bold" fill="#f7ead3" font-family="'Liberation Sans', sans-serif">V<tspan font-size="11" font-weight="normal" dy="2.2">L</tspan></text><rect x="112.0" y="748.1" width="20.6" height="24.5" fill="#8fd8bc"/><text x="113.4" y="765.8" font-size="15.8" font-weight="bold" fill="#0a0a0a" font-family="'Liberation Sans', sans-serif">V<tspan font-size="11" font-weight="normal" dy="2.2">H</tspan></text><rect x="136.2" y="748.1" width="19.8" height="24.5" fill="#8fd8bc"/><text x="137.6" y="765.8" font-size="15.8" font-weight="bold" fill="#0a0a0a" font-family="'Liberation Sans', sans-serif">V<tspan font-size="11" font-weight="normal" dy="2.2">L</tspan></text><text x="155.8" y="766.1" font-size="16.6" font-weight="bold" fill="#111" textLength="93.5" lengthAdjust="spacingAndGlyphs" font-family="'Liberation Sans', sans-serif">-4-1BB-CD3-</text><text x="250.6" y="757.3" font-size="11.5" fill="#111" font-family="'Liberation Sans', sans-serif">3′</text><line x1="571.1" y1="505.9" x2="582.1" y2="505.9" stroke="#1a1a1a" stroke-width="1.7"/><line x1="571.1" y1="505.9" x2="641" y2="505.9" stroke="#555" stroke-width="1.2"/><line x1="583.8" y1="503.8" x2="577.0" y2="498.8" stroke="#8a8a8a" stroke-width="0.7"/><circle cx="577.0" cy="498.8" r="0.9" fill="#2a2a2a"/><line x1="583.8" y1="508.6" x2="577.0" y2="513.6" stroke="#8a8a8a" stroke-width="0.7"/><circle cx="577.0" cy="513.6" r="0.9" fill="#2a2a2a"/><line x1="584.4" y1="503.8" x2="581.0" y2="498.0" stroke="#8a8a8a" stroke-width="0.7"/><circle cx="581.0" cy="498.0" r="0.9" fill="#2a2a2a"/><line x1="584.4" y1="508.6" x2="581.0" y2="514.4" stroke="#8a8a8a" stroke-width="0.7"/><circle cx="581.0" cy="514.4" r="0.9" fill="#2a2a2a"/><line x1="585.0" y1="503.8" x2="585.0" y2="497.2" stroke="#8a8a8a" stroke-width="0.7"/><circle cx="585.0" cy="497.2" r="0.9" fill="#2a2a2a"/><line x1="585.0" y1="508.6" x2="585.0" y2="515.2" stroke="#8a8a8a" stroke-width="0.7"/><circle cx="585.0" cy="515.2" r="0.9" fill="#2a2a2a"/><line x1="585.6" y1="503.8" x2="589.0" y2="498.0" stroke="#8a8a8a" stroke-width="0.7"/><circle cx="589.0" cy="498.0" r="0.9" fill="#2a2a2a"/><line x1="585.6" y1="508.6" x2="589.0" y2="514.4" stroke="#8a8a8a" stroke-width="0.7"/><circle cx="589.0" cy="514.4" r="0.9" fill="#2a2a2a"/><line x1="586.2" y1="503.8" x2="593.0" y2="498.8" stroke="#8a8a8a" stroke-width="0.7"/><circle cx="593.0" cy="498.8" r="0.9" fill="#2a2a2a"/><line x1="586.2" y1="508.6" x2="593.0" y2="513.6" stroke="#8a8a8a" stroke-width="0.7"/><circle cx="593.0" cy="513.6" r="0.9" fill="#2a2a2a"/><line x1="593.8" y1="503.3" x2="593.3" y2="497.0" stroke="#8a8a8a" stroke-width="0.7"/><circle cx="593.3" cy="497.0" r="0.9" fill="#2a2a2a"/><line x1="596.8" y1="508.5" x2="597.8" y2="514.8" stroke="#8a8a8a" stroke-width="0.7"/><circle cx="597.8" cy="514.8" r="0.9" fill="#2a2a2a"/><line x1="608.4" y1="503.3" x2="608.9" y2="497.0" stroke="#8a8a8a" stroke-width="0.7"/><circle cx="608.9" cy="497.0" r="0.9" fill="#2a2a2a"/><line x1="605.4" y1="508.5" x2="604.4" y2="514.8" stroke="#8a8a8a" stroke-width="0.7"/><circle cx="604.4" cy="514.8" r="0.9" fill="#2a2a2a"/><line x1="619.2" y1="503.3" x2="618.7" y2="497.0" stroke="#8a8a8a" stroke-width="0.7"/><circle cx="618.7" cy="497.0" r="0.9" fill="#2a2a2a"/><line x1="622.2" y1="508.5" x2="623.2" y2="514.8" stroke="#8a8a8a" stroke-width="0.7"/><circle cx="623.2" cy="514.8" r="0.9" fill="#2a2a2a"/><ellipse cx="585" cy="506.2" rx="3.2" ry="3.0" fill="#7b7b7b" stroke="#4f4f4f" stroke-width="0.5"/><ellipse cx="594.8" cy="506" rx="6.6" ry="2.9" fill="#7b7b7b" stroke="#4f4f4f" stroke-width="0.5"/><ellipse cx="607.4" cy="506" rx="5.8" ry="2.9" fill="#7b7b7b" stroke="#4f4f4f" stroke-width="0.5"/><ellipse cx="620.2" cy="506" rx="5.8" ry="2.9" fill="#7b7b7b" stroke="#4f4f4f" stroke-width="0.5"/><ellipse cx="635.8" cy="507.3" rx="4.3" ry="5.3" transform="rotate(0 635.8 507.3)" fill="#7b7b7b" stroke="#4f4f4f" stroke-width="0.5"/><ellipse cx="641" cy="515.3" rx="4.7" ry="5.2" transform="rotate(0 641 515.3)" fill="#7b7b7b" stroke="#4f4f4f" stroke-width="0.5"/><line x1="591.8" y1="569.5" x2="613.8" y2="569.5" stroke="#1e6b25" stroke-width="1.7"/><rect x="613.8" y="564.5" width="15.6" height="10.2" rx="3.3" fill="#43a04a" stroke="#2e7d36" stroke-width="0.8"/><rect x="629.6" y="564.5" width="15.9" height="10.2" rx="3.3" fill="#43a04a" stroke="#2e7d36" stroke-width="0.8"/><path d="M647.5,528 C647,517 653,510 661.3,510 C669,510 675,512 677,517" fill="none" stroke="#4a4a4a" stroke-width="1.9"/><line x1="679.2" y1="543" x2="679.2" y2="571" stroke="#4a4a4a" stroke-width="1.9"/><line x1="654.2" y1="555" x2="648.3" y2="583" stroke="#80b9a0" stroke-width="1.6"/><line x1="659.6" y1="606" x2="659.6" y2="636" stroke="#80b9a0" stroke-width="1.6"/><g transform="translate(652.8 538.5) rotate(-20)"><path transform="translate(-9.25 -14.50)" d="M0,26.5 L0,0 Q3.7,5.8 7.8,4.6 Q11.5,3.8 14.2,0 L18.5,3.8 L18.5,26.5 Q18.5,29.0 16.0,29.0 L2.5,29.0 Q0,29.0 0,26.5Z" fill="#8f8b8b"/><text x="-7.7" y="7.0" font-size="13.5" font-weight="bold" fill="#f7ead3" font-family="'Liberation Sans', sans-serif">V<tspan font-size="9.0" dy="1.8">H</tspan></text></g><g transform="translate(677.6 528.4) rotate(-20)"><path transform="translate(-9.25 -14.50)" d="M0,26.5 L0,0 Q3.7,5.8 7.8,4.6 Q11.5,3.8 14.2,0 L18.5,3.8 L18.5,26.5 Q18.5,29.0 16.0,29.0 L2.5,29.0 Q0,29.0 0,26.5Z" fill="#8f8b8b"/><text x="-7.7" y="7.0" font-size="13.5" font-weight="bold" fill="#f7ead3" font-family="'Liberation Sans', sans-serif">V<tspan font-size="9.0" dy="1.8">L</tspan></text></g><g transform="translate(655.6 591.7) rotate(-22)"><path transform="translate(-9.25 -14.50)" d="M0,26.5 L0,0 Q3.7,5.8 7.8,4.6 Q11.5,3.8 14.2,0 L18.5,3.8 L18.5,26.5 Q18.5,29.0 16.0,29.0 L2.5,29.0 Q0,29.0 0,26.5Z" fill="#8cd8bd"/><text x="-7.7" y="7.0" font-size="13.5" font-weight="bold" fill="#0a0a0a" font-family="'Liberation Sans', sans-serif">V<tspan font-size="9.0" dy="1.8">L</tspan></text></g><g transform="translate(681.8 581.5) rotate(-22)"><path transform="translate(-9.25 -14.50)" d="M0,26.5 L0,0 Q3.7,5.8 7.8,4.6 Q11.5,3.8 14.2,0 L18.5,3.8 L18.5,26.5 Q18.5,29.0 16.0,29.0 L2.5,29.0 Q0,29.0 0,26.5Z" fill="#8cd8bd"/><text x="-7.7" y="7.0" font-size="13.5" font-weight="bold" fill="#0a0a0a" font-family="'Liberation Sans', sans-serif">V<tspan font-size="9.0" dy="1.8">H</tspan></text></g><text x="405.4" y="757.6" font-size="11.5" fill="#111" font-family="'Liberation Sans', sans-serif">5′</text><rect x="414.7" y="759.4" width="93.6" height="2.3" fill="#111"/><rect x="418.7" y="748.1" width="20.8" height="24.5" fill="#8fd8bc"/><text x="420.1" y="765.8" font-size="15.8" font-weight="bold" fill="#0a0a0a" font-family="'Liberation Sans', sans-serif">V<tspan font-size="11" font-weight="normal" dy="2.2">H</tspan></text><rect x="443.6" y="748.1" width="19.0" height="24.5" fill="#8f8b8a"/><text x="445.0" y="765.8" font-size="15.8" font-weight="bold" fill="#f7ead3" font-family="'Liberation Sans', sans-serif">V<tspan font-size="11" font-weight="normal" dy="2.2">L</tspan></text><rect x="466.7" y="748.1" width="19.5" height="24.5" fill="#8f8b8a"/><text x="468.1" y="765.8" font-size="15.8" font-weight="bold" fill="#f6f1f1" font-family="'Liberation Sans', sans-serif">V<tspan font-size="11" font-weight="normal" dy="2.2">H</tspan></text><rect x="490.2" y="748.1" width="17.9" height="24.5" fill="#8fd8bc"/><text x="491.6" y="765.8" font-size="15.8" font-weight="bold" fill="#0a0a0a" font-family="'Liberation Sans', sans-serif">V<tspan font-size="11" font-weight="normal" dy="2.2">L</tspan></text><text x="508.3" y="766.1" font-size="16.6" font-weight="bold" fill="#111" textLength="95.9" lengthAdjust="spacingAndGlyphs" font-family="'Liberation Sans', sans-serif">-4-1BB-CD3-</text><text x="605.6" y="757.3" font-size="11.5" fill="#111" font-family="'Liberation Sans', sans-serif">3′</text><rect x="729" y="0" width="2" height="815" fill="#fafafa"/><rect x="737" y="0" width="1" height="815" fill="#000"/><rect x="0" y="814" width="738" height="1" fill="#000"/></svg></body></html>
